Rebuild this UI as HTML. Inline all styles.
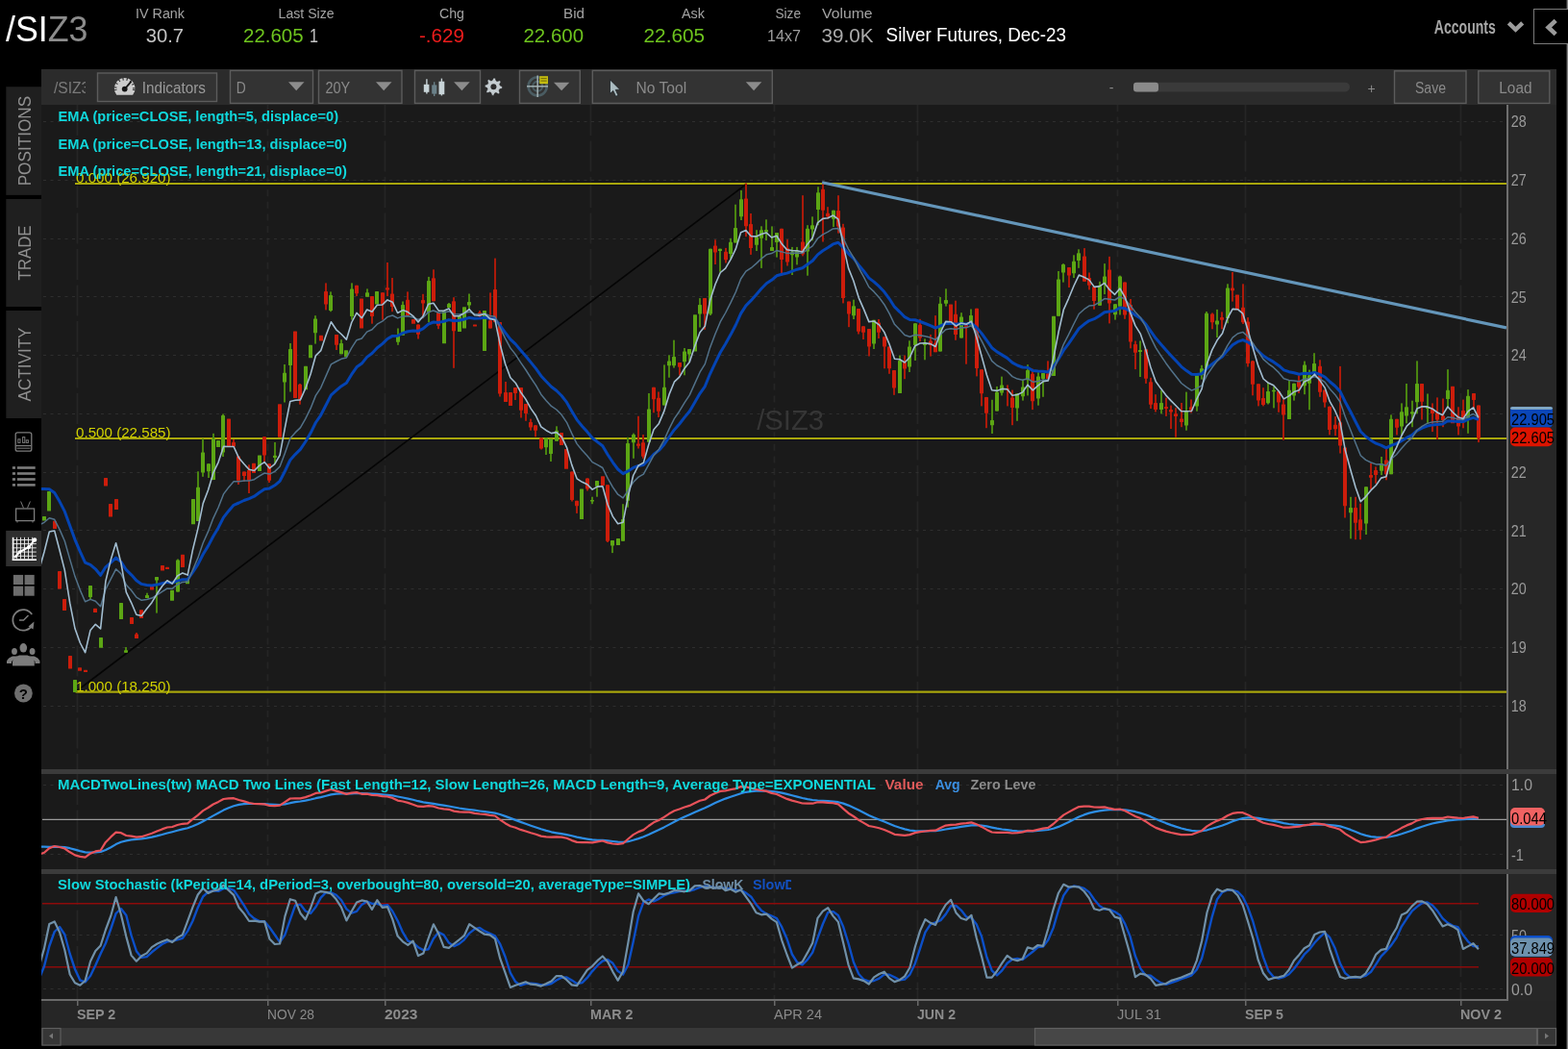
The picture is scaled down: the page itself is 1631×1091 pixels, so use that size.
<!DOCTYPE html><html><head><meta charset="utf-8"><title>/SIZ3 Silver Futures chart</title><style>html,body{margin:0;padding:0;background:#000;overflow:hidden}svg{display:block}text{font-family:"Liberation Sans","DejaVu Sans",sans-serif}</style></head><body>
<svg width="1631" height="1091" viewBox="0 0 1631 1091">
<rect width="1631" height="1091" fill="#000"/>
<text x="6" y="43" font-size="37" fill="#ffffff" textLength="85.5" lengthAdjust="spacingAndGlyphs">/SI<tspan fill="#8c8c8c">Z3</tspan></text>
<text x="141" y="19.2" font-size="15.5" fill="#a3a3a3" textLength="51" lengthAdjust="spacingAndGlyphs" >IV Rank</text>
<text x="289.6" y="19.2" font-size="15.5" fill="#a3a3a3" textLength="58" lengthAdjust="spacingAndGlyphs" >Last Size</text>
<text x="457" y="19.2" font-size="15.5" fill="#a3a3a3" textLength="26" lengthAdjust="spacingAndGlyphs" >Chg</text>
<text x="586" y="19.2" font-size="15.5" fill="#a3a3a3" textLength="22" lengthAdjust="spacingAndGlyphs" >Bid</text>
<text x="709" y="19.2" font-size="15.5" fill="#a3a3a3" textLength="24" lengthAdjust="spacingAndGlyphs" >Ask</text>
<text x="806.4" y="19.2" font-size="15.5" fill="#a3a3a3" textLength="26.6" lengthAdjust="spacingAndGlyphs" >Size</text>
<text x="855" y="19.2" font-size="15.5" fill="#a3a3a3" textLength="52.6" lengthAdjust="spacingAndGlyphs" >Volume</text>
<text x="151.7" y="44.4" font-size="20" fill="#c4c4c4" textLength="39.3" lengthAdjust="spacingAndGlyphs" >30.7</text>
<text x="253" y="44.4" font-size="20" fill="#6ec41e" textLength="62.6" lengthAdjust="spacingAndGlyphs" >22.605</text>
<text x="322" y="44.4" font-size="20" fill="#c4c4c4" textLength="9" lengthAdjust="spacingAndGlyphs" >1</text>
<text x="436" y="44.4" font-size="20" fill="#ee1c1c" textLength="47" lengthAdjust="spacingAndGlyphs" >-.629</text>
<text x="544.5" y="44.4" font-size="20" fill="#6ec41e" textLength="62.5" lengthAdjust="spacingAndGlyphs" >22.600</text>
<text x="669.6" y="44.4" font-size="20" fill="#6ec41e" textLength="63.4" lengthAdjust="spacingAndGlyphs" >22.605</text>
<text x="798" y="43.4" font-size="17" fill="#9c9c9c" textLength="35" lengthAdjust="spacingAndGlyphs" >14x7</text>
<text x="854.6" y="44.4" font-size="20" fill="#ababab" textLength="54" lengthAdjust="spacingAndGlyphs" >39.0K</text>
<text x="921.6" y="43" font-size="21" fill="#ffffff" textLength="187.4" lengthAdjust="spacingAndGlyphs" >Silver Futures, Dec-23</text>
<text x="1491.8" y="35" font-size="20" fill="#a6a6a6" font-weight="bold" textLength="64" lengthAdjust="spacingAndGlyphs" >Accounts</text>
<path d="M1569.3,23.8 L1576.5,30.8 L1583.7,23.8" fill="none" stroke="#9c9c9c" stroke-width="4.4"/>
<rect x="1595.5" y="9.5" width="40" height="36" fill="#000" stroke="#7a7a7a" stroke-width="1"/>
<path d="M1618.2,21.3 L1610.6,28.5 L1618.2,35.7" fill="none" stroke="#9a9a9a" stroke-width="4.6"/>
<rect x="1629.6" y="0" width="1.4" height="9.5" fill="#808080"/>
<rect x="1629.6" y="45.5" width="1.4" height="1046" fill="#808080"/>
<rect x="6.3" y="90.2" width="36.7" height="112.7" fill="#1f1f1f"/>
<text x="0" y="0" font-size="19" fill="#8f8f8f" text-anchor="middle" textLength="93.5" lengthAdjust="spacingAndGlyphs" transform="translate(32.3,146.6) rotate(-90)">POSITIONS</text>
<rect x="6.3" y="207" width="36.7" height="112.0" fill="#1f1f1f"/>
<text x="0" y="0" font-size="19" fill="#8f8f8f" text-anchor="middle" textLength="57.3" lengthAdjust="spacingAndGlyphs" transform="translate(32.3,263.0) rotate(-90)">TRADE</text>
<rect x="6.3" y="323" width="36.7" height="112.0" fill="#1f1f1f"/>
<text x="0" y="0" font-size="19" fill="#8f8f8f" text-anchor="middle" textLength="77" lengthAdjust="spacingAndGlyphs" transform="translate(32.3,379.0) rotate(-90)">ACTIVITY</text>
<rect x="16.2" y="449.8" width="16.6" height="19.4" rx="2" fill="none" stroke="#7c7c7c" stroke-width="1.3"/>
<line x1="16.5" y1="463.6" x2="32.5" y2="463.6" stroke="#7c7c7c" stroke-width="1.2"/><line x1="17.5" y1="466.2" x2="31.5" y2="466.2" stroke="#7c7c7c" stroke-width="1"/>
<rect x="18.8" y="456.8" width="2.2" height="3.6" fill="none" stroke="#7c7c7c" stroke-width="1"/><rect x="23.6" y="454.6" width="2.2" height="5.8" fill="none" stroke="#7c7c7c" stroke-width="1"/><rect x="27.2" y="457.8" width="2.2" height="2.6" fill="none" stroke="#7c7c7c" stroke-width="1"/>
<rect x="12.9" y="485.2" width="3.1" height="2.6" fill="#7c7c7c"/><rect x="17.9" y="485.2" width="18.8" height="2.6" fill="#7c7c7c"/>
<rect x="12.9" y="491.2" width="3.1" height="2.6" fill="#7c7c7c"/><rect x="17.9" y="491.2" width="18.8" height="2.6" fill="#7c7c7c"/>
<rect x="12.9" y="497.2" width="3.1" height="2.6" fill="#7c7c7c"/><rect x="17.9" y="497.2" width="18.8" height="2.6" fill="#7c7c7c"/>
<rect x="12.9" y="503.1" width="3.1" height="2.6" fill="#7c7c7c"/><rect x="17.9" y="503.1" width="18.8" height="2.6" fill="#7c7c7c"/>
<rect x="16.6" y="529" width="19" height="12.6" fill="none" stroke="#7c7c7c" stroke-width="1.3"/>
<path d="M21.6,521.5 L24.5,528.4 M31.4,521.5 L28.5,528.4" stroke="#7c7c7c" stroke-width="1"/>
<path d="M18,542 L18,543.5 M34,542 L34,543.5" stroke="#7c7c7c" stroke-width="1"/>
<rect x="6.2" y="551.9" width="37" height="37.1" fill="#2f2f2f"/>
<rect x="12.8" y="558.8" width="1.6" height="24.2" fill="#fff"/><rect x="12.8" y="581.4" width="25.2" height="1.6" fill="#fff"/>
<rect x="17" y="558.8" width="0.9" height="22.6" fill="#f0f0f0"/>
<rect x="21" y="558.8" width="0.9" height="22.6" fill="#f0f0f0"/>
<rect x="25" y="558.8" width="0.9" height="22.6" fill="#f0f0f0"/>
<rect x="29" y="558.8" width="0.9" height="22.6" fill="#f0f0f0"/>
<rect x="33.2" y="558.8" width="0.9" height="22.6" fill="#f0f0f0"/>
<rect x="12.8" y="561" width="25" height="0.9" fill="#f0f0f0"/>
<rect x="12.8" y="565.2" width="25" height="0.9" fill="#f0f0f0"/>
<rect x="12.8" y="569.4" width="25" height="0.9" fill="#f0f0f0"/>
<rect x="12.8" y="573.6" width="25" height="0.9" fill="#f0f0f0"/>
<rect x="12.8" y="577.8" width="25" height="0.9" fill="#f0f0f0"/>
<path d="M15,580 L20.5,574 L30,569 L36,561.5" stroke="#fff" stroke-width="2" fill="none"/>
<circle cx="20.5" cy="574" r="1.8" fill="#fff"/><circle cx="30" cy="569" r="2" fill="#fff"/><circle cx="36" cy="561.5" r="2.3" fill="#fff"/>
<rect x="13.9" y="597.9" width="10.2" height="10.1" fill="#6c6c6c"/><rect x="25.6" y="597.9" width="10.1" height="10.1" fill="#6c6c6c"/><rect x="13.9" y="609.6" width="10.2" height="10.1" fill="#6c6c6c"/><rect x="25.6" y="609.6" width="10.1" height="10.1" fill="#6c6c6c"/>
<path d="M33.9,649.5 A10.8,10.8 0 1 1 33.2,639" fill="none" stroke="#7c7c7c" stroke-width="1.8"/>
<path d="M29.5,651.5 L35.5,646.5 L34.5,654.5 Z" fill="#7c7c7c"/>
<path d="M20,645 L24.5,645 L29.5,640" fill="none" stroke="#7c7c7c" stroke-width="1.5"/>
<ellipse cx="24.3" cy="673.8" rx="3.8" ry="4.8" fill="#7c7c7c"/><path d="M13,692.5 L13,688 Q14,683.5 20,681.5 L28.5,681.5 Q34.5,683.5 35.8,688 L35.8,692.5 Z" fill="#7c7c7c"/>
<ellipse cx="15" cy="677.5" rx="2.9" ry="3.6" fill="#7c7c7c"/><path d="M7,690 L7,687.5 Q8.5,684 13,682.5 L18.5,682.5 L12,688 L12,690 Z" fill="#7c7c7c"/>
<ellipse cx="33.6" cy="677.5" rx="2.9" ry="3.6" fill="#7c7c7c"/><path d="M41.5,690 L41.5,687.5 Q40,684 35.5,682.5 L30,682.5 L36.5,688 L36.5,690 Z" fill="#7c7c7c"/>
<circle cx="24.4" cy="721" r="9.4" fill="#6e6e6e"/>
<text x="24.4" y="727" font-size="15" font-weight="bold" fill="#000" text-anchor="middle">?</text>
<rect x="43" y="72" width="1576" height="37" fill="#2b2b2b"/>
<rect x="43" y="109" width="1576" height="932" fill="#272727"/>
<rect x="43" y="109" width="1524" height="691" fill="#1a1a1a"/>
<rect x="43" y="805" width="1524" height="99" fill="#1a1a1a"/>
<rect x="43" y="909" width="1524" height="130" fill="#1a1a1a"/>
<rect x="43" y="800" width="1576" height="5" fill="#3b3b3b"/>
<rect x="43" y="904" width="1576" height="5" fill="#3b3b3b"/>
<rect x="1567" y="109" width="2" height="691" fill="#6e6e6e"/>
<rect x="1567" y="805" width="2" height="99" fill="#6e6e6e"/>
<rect x="1567" y="909" width="2" height="130" fill="#6e6e6e"/>
<rect x="43" y="1039" width="1526" height="2" fill="#6a6a6a"/>
<rect x="43" y="1041" width="1576" height="27.5" fill="#262626"/>
<clipPath id="tbc"><rect x="44" y="80" width="45" height="22"/></clipPath>
<text x="56" y="96.7" font-size="15.6" fill="#7a7a7a" clip-path="url(#tbc)">/SIZ3</text>
<rect x="101.5" y="76" width="124" height="29.5" fill="#333333" stroke="#5c5c5c" stroke-width="1.4"/>
<path d="M121.3,98.8 A10.9,10.9 0 1 1 138.1,98.8 Z" fill="#cbcbcb"/>
<line x1="121.4" y1="91.1" x2="118.5" y2="90.8" stroke="#333" stroke-width="1.1"/>
<line x1="122.5" y1="87.6" x2="120.0" y2="86.2" stroke="#333" stroke-width="1.1"/>
<line x1="124.9" y1="85.0" x2="123.3" y2="82.6" stroke="#333" stroke-width="1.1"/>
<line x1="128.3" y1="83.6" x2="127.8" y2="80.8" stroke="#333" stroke-width="1.1"/>
<line x1="131.8" y1="83.8" x2="132.6" y2="81.0" stroke="#333" stroke-width="1.1"/>
<line x1="135.0" y1="85.4" x2="136.9" y2="83.2" stroke="#333" stroke-width="1.1"/>
<line x1="137.2" y1="88.3" x2="139.9" y2="87.1" stroke="#333" stroke-width="1.1"/>
<line x1="138.0" y1="91.8" x2="140.9" y2="91.8" stroke="#333" stroke-width="1.1"/>
<line x1="121.5" y1="93.2" x2="118.7" y2="93.7" stroke="#333" stroke-width="1.1"/>
<line x1="137.9" y1="93.2" x2="140.7" y2="93.7" stroke="#333" stroke-width="1.1"/>
<circle cx="129.7" cy="92.6" r="2.9" fill="#151515"/><line x1="129.7" y1="92.6" x2="136.6" y2="84.6" stroke="#151515" stroke-width="1.8"/>
<text x="147.7" y="96.7" font-size="15.6" fill="#9a9a9a" textLength="66.2" lengthAdjust="spacingAndGlyphs" >Indicators</text>
<rect x="239.5" y="73.4" width="86" height="34" fill="#333333" stroke="#5c5c5c" stroke-width="1.4"/>
<text x="245.8" y="96.7" font-size="15.6" fill="#8a8a8a" textLength="10" lengthAdjust="spacingAndGlyphs" >D</text>
<path d="M300,85.3 L316.5,85.3 L308.2,94.3 Z" fill="#8c8c8c"/>
<rect x="331.5" y="73.4" width="86.5" height="34" fill="#333333" stroke="#5c5c5c" stroke-width="1.4"/>
<text x="338.5" y="96.7" font-size="15.6" fill="#8a8a8a" textLength="25.7" lengthAdjust="spacingAndGlyphs" >20Y</text>
<path d="M391,85.3 L407.5,85.3 L399.2,94.3 Z" fill="#8c8c8c"/>
<rect x="431.5" y="73.4" width="68" height="34" fill="#333333" stroke="#5c5c5c" stroke-width="1.4"/>
<line x1="443.9" y1="82.3" x2="443.9" y2="97.6" stroke="#c8d4d8" stroke-width="1.4"/><rect x="440.8" y="87.8" width="5.6" height="8" fill="#c8d4d8"/>
<line x1="451.7" y1="85.3" x2="451.7" y2="100" stroke="#6a8088" stroke-width="1.4"/><rect x="449.2" y="88.4" width="5.1" height="9.2" fill="#6a8088"/>
<line x1="459.4" y1="81.6" x2="459.4" y2="99.4" stroke="#c8d4d8" stroke-width="1.4"/><rect x="456.5" y="84.7" width="5.8" height="13.5" fill="#c8d4d8"/>
<path d="M472.1,85.3 L488.7,85.3 L480.4,94.3 Z" fill="#8c8c8c"/>
<polygon points="513.42,81.00 515.18,81.17 516.02,83.92 517.17,84.54 519.92,83.71 521.04,85.07 519.69,87.61 520.07,88.86 522.60,90.22 522.43,91.98 519.68,92.82 519.06,93.97 519.89,96.72 518.53,97.84 515.99,96.49 514.74,96.87 513.38,99.40 511.62,99.23 510.78,96.48 509.63,95.86 506.88,96.69 505.76,95.33 507.11,92.79 506.73,91.54 504.20,90.18 504.37,88.42 507.12,87.58 507.74,86.43 506.91,83.68 508.27,82.56 510.81,83.91 512.06,83.53" fill="#c4ccd0" stroke="#1e1e1e" stroke-width="0.6"/>
<circle cx="513.4" cy="90.2" r="3" fill="#2b2b2b"/>
<rect x="540.5" y="73.4" width="62.8" height="34" fill="#333333" stroke="#5c5c5c" stroke-width="1.4"/>
<circle cx="559.2" cy="89.8" r="9.6" fill="none" stroke="#4a5c62" stroke-width="2.6"/><circle cx="559.2" cy="89.8" r="5" fill="none" stroke="#4a5c62" stroke-width="2"/>
<line x1="548" y1="89.8" x2="570" y2="89.8" stroke="#a8b6b8" stroke-width="1.4"/><line x1="559.2" y1="78.6" x2="559.2" y2="101" stroke="#a8b6b8" stroke-width="1.4"/>
<rect x="561.2" y="79.2" width="8.8" height="8" fill="#c4bc10"/><line x1="562.5" y1="81.6" x2="568.7" y2="81.6" stroke="#5a5600" stroke-width="0.8"/><line x1="562.5" y1="84.1" x2="568.7" y2="84.1" stroke="#5a5600" stroke-width="0.8"/>
<path d="M576,85.7 L592.3,85.7 L584.1,94.3 Z" fill="#8c8c8c"/>
<rect x="616.3" y="73.4" width="187" height="34" fill="#333333" stroke="#5c5c5c" stroke-width="1.4"/>
<path d="M634.5,82.9 L634.5,97.5 L637.8,94.4 L640.6,100.3 L643,99.2 L640.3,93.4 L644.9,93.2 Z" fill="#aabbc0" stroke="#1c2226" stroke-width="0.8"/>
<text x="661.5" y="96.7" font-size="15.6" fill="#8a8a8a" textLength="52.7" lengthAdjust="spacingAndGlyphs" >No Tool</text>
<path d="M775.8,85.3 L792.3,85.3 L784.1,94.3 Z" fill="#8c8c8c"/>
<text x="1156" y="96" font-size="14" fill="#8a8a8a" text-anchor="middle" >-</text>
<rect x="1179" y="85.7" width="225" height="9.7" rx="4.8" fill="#3a3a3a"/>
<rect x="1179" y="85.7" width="26" height="9.7" rx="3" fill="#8a8a8a"/>
<text x="1426.5" y="97" font-size="14" fill="#8a8a8a" text-anchor="middle" >+</text>
<rect x="1450.5" y="73.8" width="74.5" height="33.6" fill="#333333" stroke="#5c5c5c" stroke-width="1.4"/>
<text x="1472" y="97.3" font-size="15.6" fill="#8a8a8a" textLength="32" lengthAdjust="spacingAndGlyphs" >Save</text>
<rect x="1537.8" y="73.8" width="74" height="33.6" fill="#333333" stroke="#5c5c5c" stroke-width="1.4"/>
<text x="1559.3" y="97.3" font-size="15.6" fill="#8a8a8a" textLength="34.2" lengthAdjust="spacingAndGlyphs" >Load</text>
<defs><clipPath id="cp"><rect x="43" y="109" width="1524" height="691"/></clipPath><clipPath id="cm"><rect x="43" y="805" width="1524" height="99"/></clipPath><clipPath id="cs"><rect x="43" y="909" width="1524" height="130"/></clipPath></defs>
<line x1="80.5" y1="109" x2="80.5" y2="800" stroke="#252525" stroke-width="1.8" stroke-dasharray="32 5.5"/>
<line x1="278.5" y1="109" x2="278.5" y2="800" stroke="#252525" stroke-width="1.8" stroke-dasharray="7 5.6"/>
<line x1="400.5" y1="109" x2="400.5" y2="800" stroke="#252525" stroke-width="1.8" stroke-dasharray="32 5.5"/>
<line x1="614.5" y1="109" x2="614.5" y2="800" stroke="#252525" stroke-width="1.8" stroke-dasharray="32 5.5"/>
<line x1="805.5" y1="109" x2="805.5" y2="800" stroke="#252525" stroke-width="1.8" stroke-dasharray="7 5.6"/>
<line x1="954.5" y1="109" x2="954.5" y2="800" stroke="#252525" stroke-width="1.8" stroke-dasharray="32 5.5"/>
<line x1="1162.5" y1="109" x2="1162.5" y2="800" stroke="#252525" stroke-width="1.8" stroke-dasharray="7 5.6"/>
<line x1="1295.5" y1="109" x2="1295.5" y2="800" stroke="#252525" stroke-width="1.8" stroke-dasharray="32 5.5"/>
<line x1="1519.5" y1="109" x2="1519.5" y2="800" stroke="#252525" stroke-width="1.8" stroke-dasharray="32 5.5"/>
<line x1="80.5" y1="805" x2="80.5" y2="904" stroke="#252525" stroke-width="1.8" stroke-dasharray="32 5.5"/>
<line x1="278.5" y1="805" x2="278.5" y2="904" stroke="#252525" stroke-width="1.8" stroke-dasharray="7 5.6"/>
<line x1="400.5" y1="805" x2="400.5" y2="904" stroke="#252525" stroke-width="1.8" stroke-dasharray="32 5.5"/>
<line x1="614.5" y1="805" x2="614.5" y2="904" stroke="#252525" stroke-width="1.8" stroke-dasharray="32 5.5"/>
<line x1="805.5" y1="805" x2="805.5" y2="904" stroke="#252525" stroke-width="1.8" stroke-dasharray="7 5.6"/>
<line x1="954.5" y1="805" x2="954.5" y2="904" stroke="#252525" stroke-width="1.8" stroke-dasharray="32 5.5"/>
<line x1="1162.5" y1="805" x2="1162.5" y2="904" stroke="#252525" stroke-width="1.8" stroke-dasharray="7 5.6"/>
<line x1="1295.5" y1="805" x2="1295.5" y2="904" stroke="#252525" stroke-width="1.8" stroke-dasharray="32 5.5"/>
<line x1="1519.5" y1="805" x2="1519.5" y2="904" stroke="#252525" stroke-width="1.8" stroke-dasharray="32 5.5"/>
<line x1="80.5" y1="909" x2="80.5" y2="1039" stroke="#252525" stroke-width="1.8" stroke-dasharray="32 5.5"/>
<line x1="278.5" y1="909" x2="278.5" y2="1039" stroke="#252525" stroke-width="1.8" stroke-dasharray="7 5.6"/>
<line x1="400.5" y1="909" x2="400.5" y2="1039" stroke="#252525" stroke-width="1.8" stroke-dasharray="32 5.5"/>
<line x1="614.5" y1="909" x2="614.5" y2="1039" stroke="#252525" stroke-width="1.8" stroke-dasharray="32 5.5"/>
<line x1="805.5" y1="909" x2="805.5" y2="1039" stroke="#252525" stroke-width="1.8" stroke-dasharray="7 5.6"/>
<line x1="954.5" y1="909" x2="954.5" y2="1039" stroke="#252525" stroke-width="1.8" stroke-dasharray="32 5.5"/>
<line x1="1162.5" y1="909" x2="1162.5" y2="1039" stroke="#252525" stroke-width="1.8" stroke-dasharray="7 5.6"/>
<line x1="1295.5" y1="909" x2="1295.5" y2="1039" stroke="#252525" stroke-width="1.8" stroke-dasharray="32 5.5"/>
<line x1="1519.5" y1="909" x2="1519.5" y2="1039" stroke="#252525" stroke-width="1.8" stroke-dasharray="32 5.5"/>
<line x1="45" y1="734.5" x2="1567" y2="734.5" stroke="#2e2e2e" stroke-width="1" stroke-dasharray="3 4.5"/>
<line x1="45" y1="673.5" x2="1567" y2="673.5" stroke="#2e2e2e" stroke-width="1" stroke-dasharray="3 4.5"/>
<line x1="45" y1="612.5" x2="1567" y2="612.5" stroke="#2e2e2e" stroke-width="1" stroke-dasharray="3 4.5"/>
<line x1="45" y1="551.5" x2="1567" y2="551.5" stroke="#2e2e2e" stroke-width="1" stroke-dasharray="3 4.5"/>
<line x1="45" y1="491.5" x2="1567" y2="491.5" stroke="#2e2e2e" stroke-width="1" stroke-dasharray="3 4.5"/>
<line x1="45" y1="430.5" x2="1567" y2="430.5" stroke="#2e2e2e" stroke-width="1" stroke-dasharray="3 4.5"/>
<line x1="45" y1="369.5" x2="1567" y2="369.5" stroke="#2e2e2e" stroke-width="1" stroke-dasharray="3 4.5"/>
<line x1="45" y1="308.5" x2="1567" y2="308.5" stroke="#2e2e2e" stroke-width="1" stroke-dasharray="3 4.5"/>
<line x1="45" y1="248.5" x2="1567" y2="248.5" stroke="#2e2e2e" stroke-width="1" stroke-dasharray="3 4.5"/>
<line x1="45" y1="187.5" x2="1567" y2="187.5" stroke="#2e2e2e" stroke-width="1" stroke-dasharray="3 4.5"/>
<line x1="45" y1="126.5" x2="1567" y2="126.5" stroke="#2e2e2e" stroke-width="1" stroke-dasharray="3 4.5"/>
<line x1="45" y1="816.5" x2="1567" y2="816.5" stroke="#2e2e2e" stroke-width="1" stroke-dasharray="3 4.5"/>
<line x1="45" y1="888.5" x2="1567" y2="888.5" stroke="#2e2e2e" stroke-width="1" stroke-dasharray="3 4.5"/>
<line x1="45" y1="972.5" x2="1567" y2="972.5" stroke="#2e2e2e" stroke-width="1" stroke-dasharray="3 4.5"/>
<line x1="45" y1="1028.5" x2="1567" y2="1028.5" stroke="#2e2e2e" stroke-width="1" stroke-dasharray="3 4.5"/>
<g clip-path="url(#cp)">
<text x="787.2" y="446.7" font-size="29.6" fill="#363636" textLength="69.8" lengthAdjust="spacingAndGlyphs" >/SIZ3</text>
<line x1="78" y1="191" x2="1567" y2="191" stroke="#0e0e16" stroke-width="4.4" opacity="0.5"/>
<line x1="78" y1="191" x2="1567" y2="191" stroke="#a8a60c" stroke-width="2.2"/>
<line x1="78" y1="456" x2="1567" y2="456" stroke="#0e0e16" stroke-width="4.4" opacity="0.5"/>
<line x1="78" y1="456" x2="1567" y2="456" stroke="#a8a60c" stroke-width="2.2"/>
<line x1="78" y1="719.6" x2="1567" y2="719.6" stroke="#0e0e16" stroke-width="4.4" opacity="0.5"/>
<line x1="78" y1="719.6" x2="1567" y2="719.6" stroke="#a8a60c" stroke-width="2.2"/>
<line x1="78" y1="720" x2="776.2" y2="191.5" stroke="#050505" stroke-width="1.6"/>
<rect x="44" y="537.0" width="4" height="4.5" fill="#5ca614" rx="0.5"/>
<rect x="49" y="511.0" width="4" height="20.5" fill="#5ca614" rx="0.5"/>
<rect x="55" y="541.7" width="4" height="8.3" fill="#cc1d0b" rx="0.5"/>
<rect x="60" y="594.0" width="4" height="18.6" fill="#cc1d0b" rx="0.5"/>
<rect x="65" y="623.0" width="4" height="12.0" fill="#cc1d0b" rx="0.5"/>
<rect x="71" y="682.0" width="4" height="13.4" fill="#cc1d0b" rx="0.5"/>
<rect x="76" y="707.0" width="4" height="13.0" fill="#5ca614" rx="0.5"/>
<rect x="81" y="694.3" width="4" height="3.5" fill="#cc1d0b" rx="0.5"/>
<rect x="87" y="696.8" width="4" height="2.2" fill="#cc1d0b" rx="0.5"/>
<rect x="93" y="609.0" width="2" height="14.0" fill="#4a8610"/>
<rect x="92" y="609.0" width="4" height="12.0" fill="#5ca614" rx="0.5"/>
<rect x="97" y="632.7" width="4" height="4.3" fill="#cc1d0b" rx="0.5"/>
<rect x="103" y="663.0" width="4" height="10.8" fill="#5ca614" rx="0.5"/>
<rect x="108" y="497.0" width="4" height="8.5" fill="#cc1d0b" rx="0.5"/>
<rect x="113" y="524.0" width="4" height="13.6" fill="#cc1d0b" rx="0.5"/>
<rect x="119" y="519.0" width="4" height="11.0" fill="#cc1d0b" rx="0.5"/>
<rect x="124" y="627.0" width="4" height="17.0" fill="#5ca614" rx="0.5"/>
<rect x="130" y="673.0" width="2" height="5.8" fill="#4a8610"/>
<rect x="129" y="676.3" width="4" height="2.5" fill="#5ca614" rx="0.5"/>
<rect x="135" y="642.0" width="4" height="7.0" fill="#cc1d0b" rx="0.5"/>
<rect x="141" y="658.0" width="2" height="6.0" fill="#ac1a0a"/>
<rect x="140" y="659.4" width="4" height="4.6" fill="#cc1d0b" rx="0.5"/>
<rect x="145" y="634.3" width="4" height="8.8" fill="#cc1d0b" rx="0.5"/>
<rect x="152" y="616.7" width="2" height="5.3" fill="#4a8610"/>
<rect x="151" y="619.0" width="4" height="3.0" fill="#5ca614" rx="0.5"/>
<rect x="156" y="608.0" width="4" height="5.4" fill="#cc1d0b" rx="0.5"/>
<rect x="162" y="600.0" width="2" height="37.6" fill="#4a8610"/>
<rect x="161" y="600.0" width="4" height="3.5" fill="#5ca614" rx="0.5"/>
<rect x="167" y="588.0" width="4" height="5.6" fill="#cc1d0b" rx="0.5"/>
<rect x="172" y="589.7" width="4" height="2.3" fill="#cc1d0b" rx="0.5"/>
<rect x="177" y="613.8" width="4" height="11.0" fill="#5ca614" rx="0.5"/>
<rect x="184" y="581.5" width="2" height="34.1" fill="#4a8610"/>
<rect x="183" y="582.6" width="4" height="33.0" fill="#5ca614" rx="0.5"/>
<rect x="188" y="576.7" width="4" height="13.2" fill="#cc1d0b" rx="0.5"/>
<rect x="193" y="602.4" width="4" height="4.9" fill="#5ca614" rx="0.5"/>
<rect x="199" y="519.0" width="4" height="26.3" fill="#5ca614" rx="0.5"/>
<rect x="205" y="490.3" width="2" height="51.7" fill="#4a8610"/>
<rect x="204" y="506.8" width="4" height="35.2" fill="#5ca614" rx="0.5"/>
<rect x="210" y="456.3" width="2" height="39.5" fill="#4a8610"/>
<rect x="209" y="470.5" width="4" height="20.9" fill="#5ca614" rx="0.5"/>
<rect x="216" y="482.2" width="2" height="14.8" fill="#4a8610"/>
<rect x="215" y="482.2" width="4" height="8.1" fill="#5ca614" rx="0.5"/>
<rect x="221" y="450.8" width="2" height="48.3" fill="#4a8610"/>
<rect x="220" y="456.3" width="4" height="42.8" fill="#5ca614" rx="0.5"/>
<rect x="225" y="458.0" width="4" height="7.0" fill="#5ca614" rx="0.5"/>
<rect x="231" y="430.5" width="2" height="44.5" fill="#4a8610"/>
<rect x="230" y="432.0" width="4" height="38.5" fill="#5ca614" rx="0.5"/>
<rect x="236" y="435.4" width="4" height="29.2" fill="#cc1d0b" rx="0.5"/>
<rect x="242" y="457.0" width="2" height="7.6" fill="#ac1a0a"/>
<rect x="241" y="460.0" width="4" height="4.6" fill="#cc1d0b" rx="0.5"/>
<rect x="247" y="474.5" width="2" height="29.5" fill="#ac1a0a"/>
<rect x="246" y="474.5" width="4" height="25.3" fill="#cc1d0b" rx="0.5"/>
<rect x="253" y="490.5" width="2" height="10.5" fill="#ac1a0a"/>
<rect x="252" y="490.5" width="4" height="4.5" fill="#cc1d0b" rx="0.5"/>
<rect x="258" y="483.3" width="2" height="29.7" fill="#ac1a0a"/>
<rect x="257" y="488.8" width="4" height="11.0" fill="#cc1d0b" rx="0.5"/>
<rect x="262" y="481.8" width="4" height="10.2" fill="#cc1d0b" rx="0.5"/>
<rect x="268" y="473.4" width="4" height="16.6" fill="#5ca614" rx="0.5"/>
<rect x="274" y="454.3" width="2" height="25.7" fill="#ac1a0a"/>
<rect x="273" y="454.3" width="4" height="19.1" fill="#cc1d0b" rx="0.5"/>
<rect x="279" y="482.2" width="2" height="19.8" fill="#ac1a0a"/>
<rect x="278" y="482.2" width="4" height="17.6" fill="#cc1d0b" rx="0.5"/>
<rect x="285" y="460.0" width="2" height="22.0" fill="#4a8610"/>
<rect x="284" y="473.8" width="4" height="2.2" fill="#5ca614" rx="0.5"/>
<rect x="289" y="420.2" width="4" height="34.5" fill="#cc1d0b" rx="0.5"/>
<rect x="295" y="379.0" width="2" height="39.5" fill="#4a8610"/>
<rect x="294" y="387.7" width="4" height="9.9" fill="#5ca614" rx="0.5"/>
<rect x="301" y="357.0" width="2" height="50.5" fill="#4a8610"/>
<rect x="300" y="363.0" width="4" height="17.0" fill="#5ca614" rx="0.5"/>
<rect x="305" y="344.4" width="4" height="69.6" fill="#cc1d0b" rx="0.5"/>
<rect x="311" y="399.0" width="2" height="21.7" fill="#ac1a0a"/>
<rect x="310" y="399.8" width="4" height="15.2" fill="#cc1d0b" rx="0.5"/>
<rect x="316" y="380.7" width="4" height="24.6" fill="#5ca614" rx="0.5"/>
<rect x="321" y="358.7" width="4" height="13.6" fill="#5ca614" rx="0.5"/>
<rect x="327" y="328.2" width="2" height="29.4" fill="#4a8610"/>
<rect x="326" y="331.4" width="4" height="14.9" fill="#5ca614" rx="0.5"/>
<rect x="332" y="348.7" width="4" height="5.9" fill="#cc1d0b" rx="0.5"/>
<rect x="338" y="294.4" width="2" height="28.0" fill="#ac1a0a"/>
<rect x="337" y="303.1" width="4" height="13.4" fill="#cc1d0b" rx="0.5"/>
<rect x="343" y="303.4" width="2" height="20.8" fill="#4a8610"/>
<rect x="342" y="307.0" width="4" height="16.0" fill="#5ca614" rx="0.5"/>
<rect x="349" y="348.0" width="2" height="16.0" fill="#ac1a0a"/>
<rect x="348" y="348.0" width="4" height="10.8" fill="#cc1d0b" rx="0.5"/>
<rect x="354" y="353.2" width="2" height="15.1" fill="#4a8610"/>
<rect x="353" y="357.0" width="4" height="11.3" fill="#5ca614" rx="0.5"/>
<rect x="358" y="364.2" width="4" height="7.1" fill="#5ca614" rx="0.5"/>
<rect x="365" y="294.4" width="2" height="38.2" fill="#4a8610"/>
<rect x="364" y="300.4" width="4" height="28.6" fill="#5ca614" rx="0.5"/>
<rect x="370" y="296.8" width="2" height="11.2" fill="#ac1a0a"/>
<rect x="369" y="296.8" width="4" height="8.4" fill="#cc1d0b" rx="0.5"/>
<rect x="374" y="310.5" width="4" height="31.0" fill="#cc1d0b" rx="0.5"/>
<rect x="381" y="300.4" width="2" height="8.3" fill="#4a8610"/>
<rect x="380" y="304.3" width="4" height="4.4" fill="#5ca614" rx="0.5"/>
<rect x="386" y="308.0" width="2" height="28.7" fill="#ac1a0a"/>
<rect x="385" y="308.0" width="4" height="21.0" fill="#cc1d0b" rx="0.5"/>
<rect x="390" y="303.1" width="4" height="13.4" fill="#5ca614" rx="0.5"/>
<rect x="397" y="304.3" width="2" height="28.3" fill="#ac1a0a"/>
<rect x="396" y="304.3" width="4" height="12.2" fill="#cc1d0b" rx="0.5"/>
<rect x="402" y="273.0" width="2" height="35.1" fill="#ac1a0a"/>
<rect x="401" y="299.2" width="4" height="2.4" fill="#cc1d0b" rx="0.5"/>
<rect x="407" y="289.0" width="2" height="35.2" fill="#ac1a0a"/>
<rect x="406" y="305.5" width="4" height="13.4" fill="#cc1d0b" rx="0.5"/>
<rect x="413" y="341.5" width="2" height="17.3" fill="#4a8610"/>
<rect x="412" y="348.0" width="4" height="7.8" fill="#5ca614" rx="0.5"/>
<rect x="418" y="313.5" width="2" height="35.2" fill="#4a8610"/>
<rect x="417" y="317.0" width="4" height="31.7" fill="#5ca614" rx="0.5"/>
<rect x="423" y="303.4" width="2" height="25.0" fill="#ac1a0a"/>
<rect x="422" y="311.7" width="4" height="16.7" fill="#cc1d0b" rx="0.5"/>
<rect x="428" y="332.0" width="4" height="4.7" fill="#cc1d0b" rx="0.5"/>
<rect x="434" y="337.4" width="2" height="15.1" fill="#ac1a0a"/>
<rect x="433" y="337.4" width="4" height="10.3" fill="#cc1d0b" rx="0.5"/>
<rect x="439" y="305.8" width="2" height="25.4" fill="#ac1a0a"/>
<rect x="438" y="312.0" width="4" height="3.4" fill="#cc1d0b" rx="0.5"/>
<rect x="445" y="287.9" width="2" height="47.4" fill="#4a8610"/>
<rect x="444" y="292.0" width="4" height="33.0" fill="#5ca614" rx="0.5"/>
<rect x="450" y="280.3" width="2" height="33.0" fill="#ac1a0a"/>
<rect x="449" y="289.3" width="4" height="24.0" fill="#cc1d0b" rx="0.5"/>
<rect x="455" y="325.0" width="2" height="17.2" fill="#ac1a0a"/>
<rect x="454" y="325.0" width="4" height="13.8" fill="#cc1d0b" rx="0.5"/>
<rect x="460" y="323.6" width="4" height="33.7" fill="#5ca614" rx="0.5"/>
<rect x="466" y="315.0" width="2" height="5.0" fill="#4a8610"/>
<rect x="465" y="316.0" width="4" height="4.0" fill="#5ca614" rx="0.5"/>
<rect x="471" y="309.2" width="2" height="73.6" fill="#ac1a0a"/>
<rect x="470" y="313.3" width="4" height="31.0" fill="#cc1d0b" rx="0.5"/>
<rect x="476" y="329.1" width="4" height="15.9" fill="#5ca614" rx="0.5"/>
<rect x="481" y="319.2" width="4" height="22.3" fill="#5ca614" rx="0.5"/>
<rect x="487" y="305.5" width="2" height="16.8" fill="#4a8610"/>
<rect x="486" y="314.0" width="4" height="3.5" fill="#5ca614" rx="0.5"/>
<rect x="492" y="337.4" width="4" height="2.1" fill="#cc1d0b" rx="0.5"/>
<rect x="498" y="323.0" width="2" height="8.0" fill="#ac1a0a"/>
<rect x="497" y="325.0" width="4" height="4.0" fill="#cc1d0b" rx="0.5"/>
<rect x="502" y="323.0" width="4" height="42.0" fill="#5ca614" rx="0.5"/>
<rect x="509" y="304.4" width="2" height="37.1" fill="#ac1a0a"/>
<rect x="508" y="333.3" width="4" height="8.2" fill="#cc1d0b" rx="0.5"/>
<rect x="514" y="268.6" width="2" height="66.4" fill="#ac1a0a"/>
<rect x="513" y="301.0" width="4" height="34.0" fill="#cc1d0b" rx="0.5"/>
<rect x="519" y="335.0" width="2" height="77.5" fill="#ac1a0a"/>
<rect x="518" y="335.0" width="4" height="74.5" fill="#cc1d0b" rx="0.5"/>
<rect x="525" y="397.0" width="2" height="21.0" fill="#ac1a0a"/>
<rect x="524" y="408.0" width="4" height="10.0" fill="#cc1d0b" rx="0.5"/>
<rect x="529" y="408.0" width="4" height="14.0" fill="#cc1d0b" rx="0.5"/>
<rect x="535" y="403.0" width="2" height="13.0" fill="#ac1a0a"/>
<rect x="534" y="403.0" width="4" height="6.0" fill="#cc1d0b" rx="0.5"/>
<rect x="541" y="403.0" width="2" height="31.5" fill="#ac1a0a"/>
<rect x="540" y="403.0" width="4" height="23.8" fill="#cc1d0b" rx="0.5"/>
<rect x="546" y="420.0" width="2" height="17.8" fill="#ac1a0a"/>
<rect x="545" y="420.0" width="4" height="10.0" fill="#cc1d0b" rx="0.5"/>
<rect x="551" y="435.6" width="2" height="12.1" fill="#ac1a0a"/>
<rect x="550" y="439.0" width="4" height="5.4" fill="#cc1d0b" rx="0.5"/>
<rect x="556" y="442.2" width="2" height="12.1" fill="#ac1a0a"/>
<rect x="555" y="442.2" width="4" height="5.5" fill="#cc1d0b" rx="0.5"/>
<rect x="562" y="455.4" width="2" height="12.1" fill="#ac1a0a"/>
<rect x="561" y="455.4" width="4" height="11.0" fill="#cc1d0b" rx="0.5"/>
<rect x="567" y="455.4" width="2" height="17.6" fill="#4a8610"/>
<rect x="566" y="455.4" width="4" height="9.9" fill="#5ca614" rx="0.5"/>
<rect x="572" y="456.5" width="2" height="23.5" fill="#4a8610"/>
<rect x="571" y="456.5" width="4" height="15.4" fill="#5ca614" rx="0.5"/>
<rect x="578" y="443.3" width="2" height="15.4" fill="#4a8610"/>
<rect x="577" y="447.7" width="4" height="11.0" fill="#5ca614" rx="0.5"/>
<rect x="582" y="450.0" width="4" height="13.0" fill="#cc1d0b" rx="0.5"/>
<rect x="587" y="467.0" width="4" height="20.8" fill="#cc1d0b" rx="0.5"/>
<rect x="594" y="490.5" width="2" height="31.0" fill="#ac1a0a"/>
<rect x="593" y="490.5" width="4" height="29.5" fill="#cc1d0b" rx="0.5"/>
<rect x="599" y="520.8" width="2" height="13.1" fill="#ac1a0a"/>
<rect x="598" y="520.8" width="4" height="5.5" fill="#cc1d0b" rx="0.5"/>
<rect x="603" y="508.4" width="4" height="31.6" fill="#5ca614" rx="0.5"/>
<rect x="610" y="497.4" width="2" height="13.1" fill="#ac1a0a"/>
<rect x="609" y="497.4" width="4" height="11.0" fill="#cc1d0b" rx="0.5"/>
<rect x="615" y="516.7" width="2" height="7.5" fill="#4a8610"/>
<rect x="614" y="520.0" width="4" height="1.6" fill="#5ca614" rx="0.5"/>
<rect x="620" y="500.0" width="2" height="16.7" fill="#4a8610"/>
<rect x="619" y="500.0" width="4" height="5.7" fill="#5ca614" rx="0.5"/>
<rect x="625" y="495.3" width="4" height="9.7" fill="#cc1d0b" rx="0.5"/>
<rect x="631" y="504.3" width="2" height="59.7" fill="#ac1a0a"/>
<rect x="630" y="504.3" width="4" height="58.4" fill="#cc1d0b" rx="0.5"/>
<rect x="636" y="562.0" width="2" height="13.1" fill="#4a8610"/>
<rect x="635" y="562.0" width="4" height="5.5" fill="#5ca614" rx="0.5"/>
<rect x="641" y="560.0" width="4" height="6.9" fill="#5ca614" rx="0.5"/>
<rect x="647" y="524.2" width="2" height="38.5" fill="#4a8610"/>
<rect x="646" y="540.0" width="4" height="22.7" fill="#5ca614" rx="0.5"/>
<rect x="652" y="454.8" width="2" height="72.9" fill="#4a8610"/>
<rect x="651" y="461.0" width="4" height="59.8" fill="#5ca614" rx="0.5"/>
<rect x="658" y="450.6" width="2" height="26.2" fill="#4a8610"/>
<rect x="657" y="452.0" width="4" height="8.3" fill="#5ca614" rx="0.5"/>
<rect x="663" y="432.8" width="2" height="33.7" fill="#ac1a0a"/>
<rect x="662" y="461.6" width="4" height="2.1" fill="#cc1d0b" rx="0.5"/>
<rect x="668" y="452.0" width="2" height="24.8" fill="#ac1a0a"/>
<rect x="667" y="460.3" width="4" height="14.4" fill="#cc1d0b" rx="0.5"/>
<rect x="674" y="409.0" width="2" height="50.7" fill="#4a8610"/>
<rect x="673" y="425.4" width="4" height="34.3" fill="#5ca614" rx="0.5"/>
<rect x="679" y="402.8" width="2" height="26.5" fill="#ac1a0a"/>
<rect x="678" y="402.8" width="4" height="12.5" fill="#cc1d0b" rx="0.5"/>
<rect x="684" y="407.5" width="2" height="26.5" fill="#ac1a0a"/>
<rect x="683" y="413.7" width="4" height="14.0" fill="#cc1d0b" rx="0.5"/>
<rect x="690" y="379.4" width="2" height="42.1" fill="#4a8610"/>
<rect x="689" y="402.8" width="4" height="18.7" fill="#5ca614" rx="0.5"/>
<rect x="695" y="369.3" width="2" height="23.4" fill="#4a8610"/>
<rect x="694" y="375.5" width="4" height="4.7" fill="#5ca614" rx="0.5"/>
<rect x="700" y="353.7" width="2" height="28.9" fill="#4a8610"/>
<rect x="699" y="370.9" width="4" height="9.3" fill="#5ca614" rx="0.5"/>
<rect x="706" y="377.1" width="2" height="13.2" fill="#ac1a0a"/>
<rect x="705" y="377.1" width="4" height="4.7" fill="#cc1d0b" rx="0.5"/>
<rect x="711" y="362.0" width="2" height="28.3" fill="#4a8610"/>
<rect x="710" y="365.4" width="4" height="10.9" fill="#5ca614" rx="0.5"/>
<rect x="716" y="363.0" width="2" height="13.3" fill="#4a8610"/>
<rect x="715" y="363.0" width="4" height="5.5" fill="#5ca614" rx="0.5"/>
<rect x="721" y="327.3" width="4" height="38.1" fill="#5ca614" rx="0.5"/>
<rect x="727" y="310.1" width="2" height="30.4" fill="#4a8610"/>
<rect x="726" y="317.1" width="4" height="9.4" fill="#5ca614" rx="0.5"/>
<rect x="732" y="310.1" width="2" height="32.7" fill="#ac1a0a"/>
<rect x="731" y="310.1" width="4" height="16.4" fill="#cc1d0b" rx="0.5"/>
<rect x="738" y="258.7" width="2" height="69.3" fill="#4a8610"/>
<rect x="737" y="258.7" width="4" height="67.7" fill="#5ca614" rx="0.5"/>
<rect x="743" y="249.3" width="2" height="25.7" fill="#ac1a0a"/>
<rect x="742" y="255.5" width="4" height="7.1" fill="#cc1d0b" rx="0.5"/>
<rect x="748" y="258.7" width="2" height="24.1" fill="#4a8610"/>
<rect x="747" y="258.7" width="4" height="2.3" fill="#5ca614" rx="0.5"/>
<rect x="754" y="257.9" width="2" height="15.6" fill="#ac1a0a"/>
<rect x="753" y="261.8" width="4" height="8.5" fill="#cc1d0b" rx="0.5"/>
<rect x="759" y="247.8" width="2" height="21.0" fill="#4a8610"/>
<rect x="758" y="251.7" width="4" height="12.4" fill="#5ca614" rx="0.5"/>
<rect x="764" y="212.7" width="2" height="39.7" fill="#4a8610"/>
<rect x="763" y="236.9" width="4" height="15.5" fill="#5ca614" rx="0.5"/>
<rect x="770" y="198.0" width="2" height="31.0" fill="#4a8610"/>
<rect x="769" y="207.3" width="4" height="17.9" fill="#5ca614" rx="0.5"/>
<rect x="775" y="190.6" width="2" height="55.6" fill="#ac1a0a"/>
<rect x="774" y="206.5" width="4" height="28.8" fill="#cc1d0b" rx="0.5"/>
<rect x="780" y="222.0" width="2" height="42.9" fill="#ac1a0a"/>
<rect x="779" y="233.0" width="4" height="24.9" fill="#cc1d0b" rx="0.5"/>
<rect x="786" y="239.2" width="2" height="21.8" fill="#4a8610"/>
<rect x="785" y="246.2" width="4" height="8.6" fill="#5ca614" rx="0.5"/>
<rect x="791" y="235.3" width="2" height="43.6" fill="#4a8610"/>
<rect x="790" y="239.2" width="4" height="8.6" fill="#5ca614" rx="0.5"/>
<rect x="796" y="228.3" width="2" height="21.8" fill="#4a8610"/>
<rect x="795" y="238.9" width="4" height="2.6" fill="#5ca614" rx="0.5"/>
<rect x="802" y="235.4" width="2" height="25.6" fill="#4a8610"/>
<rect x="801" y="256.9" width="4" height="4.1" fill="#5ca614" rx="0.5"/>
<rect x="807" y="242.0" width="2" height="25.6" fill="#4a8610"/>
<rect x="806" y="242.0" width="4" height="10.1" fill="#5ca614" rx="0.5"/>
<rect x="812" y="237.8" width="2" height="48.9" fill="#ac1a0a"/>
<rect x="811" y="237.8" width="4" height="32.2" fill="#cc1d0b" rx="0.5"/>
<rect x="818" y="249.1" width="2" height="27.4" fill="#ac1a0a"/>
<rect x="817" y="258.0" width="4" height="14.4" fill="#cc1d0b" rx="0.5"/>
<rect x="823" y="256.9" width="2" height="29.1" fill="#4a8610"/>
<rect x="822" y="262.2" width="4" height="3.0" fill="#5ca614" rx="0.5"/>
<rect x="828" y="256.9" width="2" height="18.5" fill="#4a8610"/>
<rect x="827" y="261.0" width="4" height="6.6" fill="#5ca614" rx="0.5"/>
<rect x="834" y="203.2" width="2" height="63.2" fill="#ac1a0a"/>
<rect x="833" y="251.5" width="4" height="13.1" fill="#cc1d0b" rx="0.5"/>
<rect x="839" y="234.2" width="2" height="52.5" fill="#4a8610"/>
<rect x="838" y="237.8" width="4" height="23.8" fill="#5ca614" rx="0.5"/>
<rect x="844" y="225.3" width="2" height="25.0" fill="#4a8610"/>
<rect x="843" y="234.2" width="4" height="4.2" fill="#5ca614" rx="0.5"/>
<rect x="850" y="194.3" width="2" height="39.9" fill="#4a8610"/>
<rect x="849" y="200.3" width="4" height="17.6" fill="#5ca614" rx="0.5"/>
<rect x="855" y="190.5" width="2" height="61.0" fill="#ac1a0a"/>
<rect x="854" y="196.7" width="4" height="22.0" fill="#cc1d0b" rx="0.5"/>
<rect x="860" y="215.2" width="2" height="12.5" fill="#ac1a0a"/>
<rect x="859" y="221.7" width="4" height="3.6" fill="#cc1d0b" rx="0.5"/>
<rect x="866" y="218.7" width="2" height="17.3" fill="#4a8610"/>
<rect x="865" y="218.7" width="4" height="9.0" fill="#5ca614" rx="0.5"/>
<rect x="871" y="203.2" width="2" height="39.4" fill="#ac1a0a"/>
<rect x="870" y="219.1" width="4" height="16.3" fill="#cc1d0b" rx="0.5"/>
<rect x="876" y="232.8" width="2" height="82.6" fill="#ac1a0a"/>
<rect x="875" y="236.5" width="4" height="73.5" fill="#cc1d0b" rx="0.5"/>
<rect x="882" y="313.6" width="2" height="26.6" fill="#ac1a0a"/>
<rect x="881" y="313.6" width="4" height="12.8" fill="#cc1d0b" rx="0.5"/>
<rect x="887" y="311.7" width="2" height="20.3" fill="#4a8610"/>
<rect x="886" y="318.2" width="4" height="10.1" fill="#5ca614" rx="0.5"/>
<rect x="892" y="321.0" width="2" height="26.5" fill="#ac1a0a"/>
<rect x="891" y="321.0" width="4" height="23.8" fill="#cc1d0b" rx="0.5"/>
<rect x="897" y="339.3" width="2" height="13.7" fill="#ac1a0a"/>
<rect x="896" y="339.3" width="4" height="6.4" fill="#cc1d0b" rx="0.5"/>
<rect x="903" y="342.0" width="2" height="28.5" fill="#ac1a0a"/>
<rect x="902" y="342.0" width="4" height="18.4" fill="#cc1d0b" rx="0.5"/>
<rect x="908" y="332.8" width="2" height="30.2" fill="#4a8610"/>
<rect x="907" y="332.8" width="4" height="24.8" fill="#5ca614" rx="0.5"/>
<rect x="913" y="332.0" width="2" height="20.0" fill="#ac1a0a"/>
<rect x="912" y="335.6" width="4" height="10.1" fill="#cc1d0b" rx="0.5"/>
<rect x="919" y="350.3" width="2" height="33.0" fill="#ac1a0a"/>
<rect x="918" y="350.3" width="4" height="10.1" fill="#cc1d0b" rx="0.5"/>
<rect x="924" y="360.4" width="2" height="28.4" fill="#ac1a0a"/>
<rect x="923" y="360.4" width="4" height="22.9" fill="#cc1d0b" rx="0.5"/>
<rect x="929" y="385.0" width="2" height="25.8" fill="#ac1a0a"/>
<rect x="928" y="385.0" width="4" height="18.5" fill="#cc1d0b" rx="0.5"/>
<rect x="935" y="369.5" width="2" height="39.5" fill="#4a8610"/>
<rect x="934" y="375.0" width="4" height="34.0" fill="#5ca614" rx="0.5"/>
<rect x="940" y="369.5" width="2" height="24.7" fill="#ac1a0a"/>
<rect x="939" y="377.0" width="4" height="6.5" fill="#cc1d0b" rx="0.5"/>
<rect x="945" y="354.3" width="2" height="32.7" fill="#4a8610"/>
<rect x="944" y="360.4" width="4" height="21.1" fill="#5ca614" rx="0.5"/>
<rect x="951" y="336.2" width="2" height="38.8" fill="#4a8610"/>
<rect x="950" y="336.2" width="4" height="22.7" fill="#5ca614" rx="0.5"/>
<rect x="956" y="331.8" width="2" height="23.4" fill="#ac1a0a"/>
<rect x="955" y="337.7" width="4" height="13.9" fill="#cc1d0b" rx="0.5"/>
<rect x="961" y="352.3" width="2" height="22.0" fill="#4a8610"/>
<rect x="960" y="356.7" width="4" height="2.3" fill="#5ca614" rx="0.5"/>
<rect x="967" y="347.9" width="2" height="22.7" fill="#ac1a0a"/>
<rect x="966" y="354.5" width="4" height="4.5" fill="#cc1d0b" rx="0.5"/>
<rect x="972" y="328.1" width="2" height="38.1" fill="#ac1a0a"/>
<rect x="971" y="356.7" width="4" height="9.5" fill="#cc1d0b" rx="0.5"/>
<rect x="977" y="309.0" width="2" height="56.5" fill="#4a8610"/>
<rect x="976" y="315.7" width="4" height="49.8" fill="#5ca614" rx="0.5"/>
<rect x="983" y="300.3" width="2" height="18.3" fill="#4a8610"/>
<rect x="982" y="312.0" width="4" height="3.7" fill="#5ca614" rx="0.5"/>
<rect x="987" y="316.4" width="4" height="19.1" fill="#cc1d0b" rx="0.5"/>
<rect x="993" y="312.7" width="2" height="41.1" fill="#ac1a0a"/>
<rect x="992" y="326.7" width="4" height="21.2" fill="#cc1d0b" rx="0.5"/>
<rect x="999" y="325.2" width="2" height="26.4" fill="#4a8610"/>
<rect x="998" y="329.6" width="4" height="22.0" fill="#5ca614" rx="0.5"/>
<rect x="1004" y="337.0" width="2" height="41.7" fill="#ac1a0a"/>
<rect x="1003" y="337.0" width="4" height="3.0" fill="#cc1d0b" rx="0.5"/>
<rect x="1009" y="321.5" width="2" height="16.9" fill="#4a8610"/>
<rect x="1008" y="328.1" width="4" height="10.3" fill="#5ca614" rx="0.5"/>
<rect x="1015" y="320.8" width="2" height="70.6" fill="#ac1a0a"/>
<rect x="1014" y="320.8" width="4" height="62.2" fill="#cc1d0b" rx="0.5"/>
<rect x="1020" y="384.3" width="2" height="38.1" fill="#ac1a0a"/>
<rect x="1019" y="384.3" width="4" height="24.9" fill="#cc1d0b" rx="0.5"/>
<rect x="1025" y="412.9" width="2" height="32.3" fill="#ac1a0a"/>
<rect x="1024" y="412.9" width="4" height="16.9" fill="#cc1d0b" rx="0.5"/>
<rect x="1031" y="415.8" width="2" height="35.2" fill="#4a8610"/>
<rect x="1030" y="437.1" width="4" height="5.1" fill="#5ca614" rx="0.5"/>
<rect x="1036" y="401.9" width="2" height="25.7" fill="#4a8610"/>
<rect x="1035" y="407.8" width="4" height="19.8" fill="#5ca614" rx="0.5"/>
<rect x="1041" y="391.6" width="2" height="19.8" fill="#4a8610"/>
<rect x="1040" y="400.4" width="4" height="8.1" fill="#5ca614" rx="0.5"/>
<rect x="1047" y="400.4" width="2" height="22.0" fill="#ac1a0a"/>
<rect x="1046" y="404.0" width="4" height="1.6" fill="#cc1d0b" rx="0.5"/>
<rect x="1052" y="405.6" width="2" height="36.6" fill="#ac1a0a"/>
<rect x="1051" y="413.6" width="4" height="10.3" fill="#cc1d0b" rx="0.5"/>
<rect x="1057" y="409.2" width="2" height="28.6" fill="#4a8610"/>
<rect x="1056" y="409.2" width="4" height="15.4" fill="#5ca614" rx="0.5"/>
<rect x="1063" y="394.6" width="2" height="22.0" fill="#4a8610"/>
<rect x="1062" y="402.6" width="4" height="9.6" fill="#5ca614" rx="0.5"/>
<rect x="1068" y="379.2" width="2" height="32.2" fill="#4a8610"/>
<rect x="1067" y="385.0" width="4" height="10.3" fill="#5ca614" rx="0.5"/>
<rect x="1073" y="383.6" width="2" height="42.5" fill="#ac1a0a"/>
<rect x="1072" y="388.7" width="4" height="28.6" fill="#cc1d0b" rx="0.5"/>
<rect x="1079" y="387.2" width="2" height="34.5" fill="#4a8610"/>
<rect x="1078" y="391.6" width="4" height="22.8" fill="#5ca614" rx="0.5"/>
<rect x="1084" y="388.0" width="2" height="24.8" fill="#4a8610"/>
<rect x="1083" y="388.0" width="4" height="5.9" fill="#5ca614" rx="0.5"/>
<rect x="1089" y="375.4" width="2" height="18.7" fill="#ac1a0a"/>
<rect x="1088" y="388.6" width="4" height="5.5" fill="#cc1d0b" rx="0.5"/>
<rect x="1094" y="328.7" width="4" height="62.3" fill="#5ca614" rx="0.5"/>
<rect x="1100" y="282.0" width="2" height="46.7" fill="#4a8610"/>
<rect x="1099" y="290.5" width="4" height="38.2" fill="#5ca614" rx="0.5"/>
<rect x="1105" y="274.1" width="2" height="19.5" fill="#4a8610"/>
<rect x="1104" y="274.9" width="4" height="8.6" fill="#5ca614" rx="0.5"/>
<rect x="1111" y="278.0" width="2" height="21.0" fill="#ac1a0a"/>
<rect x="1110" y="278.0" width="4" height="8.6" fill="#cc1d0b" rx="0.5"/>
<rect x="1116" y="265.3" width="2" height="23.7" fill="#4a8610"/>
<rect x="1115" y="271.8" width="4" height="12.5" fill="#5ca614" rx="0.5"/>
<rect x="1121" y="259.3" width="2" height="19.5" fill="#4a8610"/>
<rect x="1120" y="263.2" width="4" height="7.8" fill="#5ca614" rx="0.5"/>
<rect x="1127" y="258.1" width="2" height="34.7" fill="#ac1a0a"/>
<rect x="1126" y="266.4" width="4" height="26.4" fill="#cc1d0b" rx="0.5"/>
<rect x="1132" y="283.5" width="2" height="17.9" fill="#ac1a0a"/>
<rect x="1131" y="289.0" width="4" height="7.7" fill="#cc1d0b" rx="0.5"/>
<rect x="1137" y="298.3" width="2" height="23.4" fill="#ac1a0a"/>
<rect x="1136" y="298.3" width="4" height="14.8" fill="#cc1d0b" rx="0.5"/>
<rect x="1143" y="292.8" width="2" height="25.0" fill="#4a8610"/>
<rect x="1142" y="296.7" width="4" height="21.1" fill="#5ca614" rx="0.5"/>
<rect x="1148" y="274.1" width="2" height="32.0" fill="#4a8610"/>
<rect x="1147" y="287.4" width="4" height="7.8" fill="#5ca614" rx="0.5"/>
<rect x="1153" y="266.8" width="2" height="69.6" fill="#ac1a0a"/>
<rect x="1152" y="280.4" width="4" height="35.0" fill="#cc1d0b" rx="0.5"/>
<rect x="1159" y="316.2" width="2" height="16.4" fill="#4a8610"/>
<rect x="1158" y="316.2" width="4" height="11.1" fill="#5ca614" rx="0.5"/>
<rect x="1164" y="286.6" width="2" height="40.9" fill="#4a8610"/>
<rect x="1163" y="287.4" width="4" height="31.4" fill="#5ca614" rx="0.5"/>
<rect x="1169" y="293.5" width="2" height="38.3" fill="#ac1a0a"/>
<rect x="1168" y="293.5" width="4" height="34.0" fill="#cc1d0b" rx="0.5"/>
<rect x="1175" y="311.0" width="2" height="51.3" fill="#ac1a0a"/>
<rect x="1174" y="317.0" width="4" height="38.4" fill="#cc1d0b" rx="0.5"/>
<rect x="1180" y="354.5" width="2" height="29.6" fill="#ac1a0a"/>
<rect x="1179" y="358.0" width="4" height="8.7" fill="#cc1d0b" rx="0.5"/>
<rect x="1185" y="354.5" width="2" height="37.5" fill="#4a8610"/>
<rect x="1184" y="364.0" width="4" height="2.0" fill="#5ca614" rx="0.5"/>
<rect x="1191" y="363.2" width="2" height="35.7" fill="#ac1a0a"/>
<rect x="1190" y="363.2" width="4" height="30.5" fill="#cc1d0b" rx="0.5"/>
<rect x="1196" y="392.8" width="2" height="32.2" fill="#ac1a0a"/>
<rect x="1195" y="397.2" width="4" height="23.5" fill="#cc1d0b" rx="0.5"/>
<rect x="1201" y="410.2" width="2" height="18.3" fill="#ac1a0a"/>
<rect x="1200" y="419.0" width="4" height="7.0" fill="#cc1d0b" rx="0.5"/>
<rect x="1207" y="405.9" width="2" height="24.4" fill="#4a8610"/>
<rect x="1206" y="419.0" width="4" height="7.0" fill="#5ca614" rx="0.5"/>
<rect x="1212" y="413.7" width="2" height="19.2" fill="#ac1a0a"/>
<rect x="1211" y="423.0" width="4" height="2.0" fill="#cc1d0b" rx="0.5"/>
<rect x="1217" y="421.6" width="2" height="24.4" fill="#ac1a0a"/>
<rect x="1216" y="426.0" width="4" height="2.5" fill="#cc1d0b" rx="0.5"/>
<rect x="1222" y="424.2" width="2" height="30.5" fill="#ac1a0a"/>
<rect x="1221" y="430.3" width="4" height="2.6" fill="#cc1d0b" rx="0.5"/>
<rect x="1228" y="419.0" width="2" height="25.2" fill="#ac1a0a"/>
<rect x="1227" y="435.5" width="4" height="3.5" fill="#cc1d0b" rx="0.5"/>
<rect x="1233" y="407.6" width="2" height="40.1" fill="#4a8610"/>
<rect x="1232" y="427.7" width="4" height="14.8" fill="#5ca614" rx="0.5"/>
<rect x="1238" y="415.5" width="2" height="13.9" fill="#ac1a0a"/>
<rect x="1237" y="423.3" width="4" height="3.5" fill="#cc1d0b" rx="0.5"/>
<rect x="1244" y="390.2" width="2" height="37.5" fill="#4a8610"/>
<rect x="1243" y="390.2" width="4" height="32.2" fill="#5ca614" rx="0.5"/>
<rect x="1249" y="379.8" width="2" height="14.8" fill="#4a8610"/>
<rect x="1248" y="383.2" width="4" height="7.0" fill="#5ca614" rx="0.5"/>
<rect x="1254" y="324.0" width="2" height="59.2" fill="#4a8610"/>
<rect x="1253" y="325.7" width="4" height="57.5" fill="#5ca614" rx="0.5"/>
<rect x="1260" y="325.4" width="2" height="16.9" fill="#ac1a0a"/>
<rect x="1259" y="326.6" width="4" height="8.7" fill="#cc1d0b" rx="0.5"/>
<rect x="1265" y="321.9" width="2" height="29.1" fill="#4a8610"/>
<rect x="1264" y="333.6" width="4" height="4.0" fill="#5ca614" rx="0.5"/>
<rect x="1270" y="324.4" width="2" height="17.9" fill="#ac1a0a"/>
<rect x="1269" y="330.1" width="4" height="2.6" fill="#cc1d0b" rx="0.5"/>
<rect x="1276" y="295.3" width="2" height="40.9" fill="#4a8610"/>
<rect x="1275" y="299.6" width="4" height="31.4" fill="#5ca614" rx="0.5"/>
<rect x="1281" y="283.0" width="2" height="30.6" fill="#ac1a0a"/>
<rect x="1280" y="299.6" width="4" height="2.6" fill="#cc1d0b" rx="0.5"/>
<rect x="1285" y="306.6" width="4" height="15.7" fill="#cc1d0b" rx="0.5"/>
<rect x="1292" y="295.3" width="2" height="41.7" fill="#ac1a0a"/>
<rect x="1291" y="319.7" width="4" height="15.6" fill="#cc1d0b" rx="0.5"/>
<rect x="1297" y="330.1" width="2" height="51.4" fill="#ac1a0a"/>
<rect x="1296" y="334.5" width="4" height="43.5" fill="#cc1d0b" rx="0.5"/>
<rect x="1302" y="375.0" width="2" height="36.3" fill="#ac1a0a"/>
<rect x="1301" y="375.4" width="4" height="24.4" fill="#cc1d0b" rx="0.5"/>
<rect x="1308" y="399.3" width="2" height="23.1" fill="#ac1a0a"/>
<rect x="1307" y="399.3" width="4" height="17.3" fill="#cc1d0b" rx="0.5"/>
<rect x="1313" y="403.2" width="2" height="19.2" fill="#ac1a0a"/>
<rect x="1312" y="414.0" width="4" height="7.1" fill="#cc1d0b" rx="0.5"/>
<rect x="1318" y="398.0" width="2" height="22.5" fill="#4a8610"/>
<rect x="1317" y="407.0" width="4" height="12.2" fill="#5ca614" rx="0.5"/>
<rect x="1324" y="401.9" width="2" height="22.5" fill="#4a8610"/>
<rect x="1323" y="405.7" width="4" height="1.6" fill="#5ca614" rx="0.5"/>
<rect x="1329" y="407.0" width="2" height="21.8" fill="#ac1a0a"/>
<rect x="1328" y="407.0" width="4" height="11.6" fill="#cc1d0b" rx="0.5"/>
<rect x="1334" y="415.4" width="2" height="42.3" fill="#ac1a0a"/>
<rect x="1333" y="420.5" width="4" height="10.9" fill="#cc1d0b" rx="0.5"/>
<rect x="1340" y="395.5" width="2" height="40.4" fill="#4a8610"/>
<rect x="1339" y="405.7" width="4" height="30.2" fill="#5ca614" rx="0.5"/>
<rect x="1345" y="398.7" width="2" height="17.9" fill="#4a8610"/>
<rect x="1344" y="398.7" width="4" height="12.8" fill="#5ca614" rx="0.5"/>
<rect x="1350" y="390.3" width="2" height="18.7" fill="#ac1a0a"/>
<rect x="1349" y="396.8" width="4" height="5.7" fill="#cc1d0b" rx="0.5"/>
<rect x="1356" y="375.6" width="2" height="34.6" fill="#4a8610"/>
<rect x="1355" y="379.4" width="4" height="21.8" fill="#5ca614" rx="0.5"/>
<rect x="1361" y="384.6" width="2" height="41.7" fill="#4a8610"/>
<rect x="1360" y="390.3" width="4" height="8.4" fill="#5ca614" rx="0.5"/>
<rect x="1366" y="367.2" width="2" height="20.6" fill="#4a8610"/>
<rect x="1365" y="378.1" width="4" height="9.7" fill="#5ca614" rx="0.5"/>
<rect x="1372" y="374.3" width="2" height="38.5" fill="#ac1a0a"/>
<rect x="1371" y="380.7" width="4" height="27.0" fill="#cc1d0b" rx="0.5"/>
<rect x="1377" y="405.5" width="2" height="18.2" fill="#ac1a0a"/>
<rect x="1376" y="405.5" width="4" height="13.0" fill="#cc1d0b" rx="0.5"/>
<rect x="1382" y="422.7" width="2" height="29.6" fill="#ac1a0a"/>
<rect x="1381" y="422.7" width="4" height="24.3" fill="#cc1d0b" rx="0.5"/>
<rect x="1388" y="433.1" width="2" height="20.1" fill="#ac1a0a"/>
<rect x="1387" y="441.8" width="4" height="4.4" fill="#cc1d0b" rx="0.5"/>
<rect x="1393" y="380.9" width="2" height="90.6" fill="#ac1a0a"/>
<rect x="1392" y="439.2" width="4" height="24.4" fill="#cc1d0b" rx="0.5"/>
<rect x="1398" y="465.4" width="2" height="73.1" fill="#ac1a0a"/>
<rect x="1397" y="465.4" width="4" height="60.9" fill="#cc1d0b" rx="0.5"/>
<rect x="1404" y="516.8" width="2" height="43.5" fill="#4a8610"/>
<rect x="1403" y="528.0" width="4" height="5.3" fill="#5ca614" rx="0.5"/>
<rect x="1409" y="516.8" width="2" height="44.4" fill="#ac1a0a"/>
<rect x="1408" y="528.0" width="4" height="15.8" fill="#cc1d0b" rx="0.5"/>
<rect x="1414" y="523.7" width="2" height="37.5" fill="#ac1a0a"/>
<rect x="1413" y="540.3" width="4" height="11.3" fill="#cc1d0b" rx="0.5"/>
<rect x="1420" y="506.3" width="2" height="49.7" fill="#4a8610"/>
<rect x="1419" y="506.3" width="4" height="38.3" fill="#5ca614" rx="0.5"/>
<rect x="1425" y="481.9" width="2" height="27.0" fill="#ac1a0a"/>
<rect x="1424" y="494.1" width="4" height="2.6" fill="#cc1d0b" rx="0.5"/>
<rect x="1430" y="485.4" width="2" height="17.4" fill="#ac1a0a"/>
<rect x="1429" y="488.9" width="4" height="5.2" fill="#cc1d0b" rx="0.5"/>
<rect x="1436" y="475.0" width="2" height="19.1" fill="#4a8610"/>
<rect x="1435" y="481.9" width="4" height="7.9" fill="#5ca614" rx="0.5"/>
<rect x="1441" y="467.1" width="2" height="32.2" fill="#ac1a0a"/>
<rect x="1440" y="478.4" width="4" height="14.8" fill="#cc1d0b" rx="0.5"/>
<rect x="1446" y="431.4" width="2" height="61.8" fill="#4a8610"/>
<rect x="1445" y="435.8" width="4" height="57.4" fill="#5ca614" rx="0.5"/>
<rect x="1452" y="435.8" width="2" height="16.6" fill="#ac1a0a"/>
<rect x="1451" y="435.8" width="4" height="8.9" fill="#cc1d0b" rx="0.5"/>
<rect x="1457" y="419.4" width="2" height="33.0" fill="#4a8610"/>
<rect x="1456" y="428.2" width="4" height="15.4" fill="#5ca614" rx="0.5"/>
<rect x="1462" y="399.0" width="2" height="41.3" fill="#4a8610"/>
<rect x="1461" y="423.3" width="4" height="9.3" fill="#5ca614" rx="0.5"/>
<rect x="1468" y="416.7" width="2" height="27.5" fill="#4a8610"/>
<rect x="1467" y="428.2" width="4" height="2.2" fill="#5ca614" rx="0.5"/>
<rect x="1473" y="375.4" width="2" height="55.0" fill="#4a8610"/>
<rect x="1472" y="399.0" width="4" height="19.3" fill="#5ca614" rx="0.5"/>
<rect x="1478" y="399.0" width="2" height="37.5" fill="#ac1a0a"/>
<rect x="1477" y="399.0" width="4" height="18.8" fill="#cc1d0b" rx="0.5"/>
<rect x="1484" y="409.5" width="2" height="31.4" fill="#4a8610"/>
<rect x="1483" y="423.3" width="4" height="1.6" fill="#5ca614" rx="0.5"/>
<rect x="1489" y="419.4" width="2" height="29.7" fill="#ac1a0a"/>
<rect x="1488" y="425.5" width="4" height="4.4" fill="#cc1d0b" rx="0.5"/>
<rect x="1494" y="413.4" width="2" height="43.4" fill="#ac1a0a"/>
<rect x="1493" y="429.3" width="4" height="7.2" fill="#cc1d0b" rx="0.5"/>
<rect x="1500" y="414.5" width="2" height="29.7" fill="#ac1a0a"/>
<rect x="1499" y="432.6" width="4" height="4.4" fill="#cc1d0b" rx="0.5"/>
<rect x="1505" y="384.2" width="2" height="39.6" fill="#4a8610"/>
<rect x="1504" y="405.7" width="4" height="9.3" fill="#5ca614" rx="0.5"/>
<rect x="1509" y="401.8" width="4" height="38.5" fill="#cc1d0b" rx="0.5"/>
<rect x="1516" y="423.3" width="2" height="29.1" fill="#ac1a0a"/>
<rect x="1515" y="433.7" width="4" height="9.9" fill="#cc1d0b" rx="0.5"/>
<rect x="1521" y="415.6" width="2" height="29.7" fill="#ac1a0a"/>
<rect x="1520" y="427.1" width="4" height="12.1" fill="#cc1d0b" rx="0.5"/>
<rect x="1526" y="405.1" width="2" height="45.7" fill="#4a8610"/>
<rect x="1525" y="411.7" width="4" height="25.3" fill="#5ca614" rx="0.5"/>
<rect x="1532" y="409.0" width="2" height="15.9" fill="#ac1a0a"/>
<rect x="1531" y="409.0" width="4" height="7.1" fill="#cc1d0b" rx="0.5"/>
<rect x="1537" y="421.6" width="2" height="38.5" fill="#ac1a0a"/>
<rect x="1536" y="421.6" width="4" height="34.1" fill="#cc1d0b" rx="0.5"/>
<polyline points="40.7,508.5 46.0,508.5 51.3,508.7 56.7,512.5 62.0,521.6 67.3,531.9 72.7,546.8 78.0,561.3 83.3,573.7 88.6,585.1 94.0,587.3 99.3,591.8 104.6,598.3 109.9,589.8 115.3,585.1 120.6,580.1 125.9,584.4 131.3,592.7 136.6,597.8 141.9,603.8 147.2,607.4 152.6,608.5 157.9,608.9 163.2,608.1 168.6,606.8 173.9,605.4 179.2,606.2 184.5,604.1 189.9,602.8 195.2,602.7 200.5,595.1 205.8,587.1 211.2,576.5 216.5,567.9 221.8,557.8 227.2,548.7 232.5,538.1 237.8,531.4 243.1,525.3 248.5,523.0 253.8,520.5 259.1,518.6 264.5,516.2 269.8,512.3 275.1,508.8 280.4,507.9 285.8,504.8 291.1,500.3 296.4,490.0 301.8,478.5 307.1,472.6 312.4,467.4 317.7,459.5 323.1,450.3 328.4,439.5 333.7,431.8 339.1,421.3 344.4,410.9 349.7,406.2 355.0,401.7 360.4,398.3 365.7,389.4 371.0,381.8 376.3,378.1 381.7,371.4 387.0,367.5 392.3,361.7 397.7,357.6 403.0,352.5 408.3,349.4 413.6,349.3 419.0,346.4 424.3,344.7 429.6,344.0 435.0,344.3 440.3,341.7 445.6,337.2 450.9,335.0 456.3,335.4 461.6,334.3 466.9,332.6 472.2,333.7 477.6,333.3 482.9,332.0 488.2,330.4 493.6,331.2 498.9,331.0 504.2,330.3 509.5,331.3 514.9,331.6 520.2,338.7 525.5,345.9 530.9,352.8 536.2,357.9 541.5,364.2 546.8,370.2 552.2,376.9 557.5,383.4 562.8,390.9 568.2,396.8 573.5,402.2 578.8,406.3 584.1,411.5 589.5,418.4 594.8,427.7 600.1,436.6 605.5,443.2 610.8,449.1 616.1,455.5 621.4,459.6 626.8,463.7 632.1,472.7 637.4,480.8 642.7,488.0 648.1,492.7 653.4,489.9 658.7,486.4 664.1,484.4 669.4,483.5 674.7,478.2 680.0,472.5 685.4,468.4 690.7,462.4 696.0,454.5 701.4,446.9 706.7,441.0 712.0,434.1 717.3,427.7 722.7,418.5 728.0,409.3 733.3,401.8 738.6,388.8 744.0,377.3 749.3,366.5 754.6,357.8 760.0,348.1 765.3,338.0 770.6,326.1 775.9,317.9 781.3,312.4 786.6,306.4 791.9,300.3 797.3,294.7 802.6,291.3 807.9,286.8 813.2,285.3 818.6,284.1 823.9,282.1 829.2,280.2 834.6,278.8 839.9,275.0 845.2,271.3 850.5,264.9 855.9,260.7 861.2,257.5 866.5,253.9 871.9,252.3 877.2,257.5 882.5,263.8 887.8,268.7 893.2,275.6 898.5,282.0 903.8,289.1 909.1,293.1 914.5,297.9 919.8,303.6 925.1,310.8 930.5,319.2 935.8,324.3 941.1,329.7 946.4,332.5 951.8,332.8 957.1,334.5 962.4,336.5 967.8,338.6 973.1,341.1 978.4,338.8 983.7,336.4 989.1,336.3 994.4,337.3 999.7,336.6 1005.1,336.9 1010.4,336.1 1015.7,340.4 1021.0,346.6 1026.4,354.2 1031.7,361.7 1037.0,365.9 1042.3,369.1 1047.7,372.4 1053.0,377.1 1058.3,380.0 1063.7,382.0 1069.0,382.3 1074.3,385.5 1079.6,386.0 1085.0,386.2 1090.3,386.9 1095.6,381.6 1101.0,373.4 1106.3,364.4 1111.6,357.3 1116.9,349.6 1122.3,341.7 1127.6,337.3 1132.9,333.6 1138.2,331.7 1143.6,328.5 1148.9,324.8 1154.2,323.9 1159.6,323.2 1164.9,320.0 1170.2,320.7 1175.5,323.8 1180.9,327.7 1186.2,331.0 1191.5,336.7 1196.9,344.3 1202.2,351.8 1207.5,357.9 1212.8,364.0 1218.2,369.9 1223.5,375.6 1228.8,381.3 1234.2,385.6 1239.5,389.3 1244.8,389.4 1250.1,388.8 1255.5,383.1 1260.8,378.7 1266.1,374.6 1271.5,370.8 1276.8,364.4 1282.1,358.7 1287.4,355.4 1292.8,353.6 1298.1,355.8 1303.4,359.8 1308.7,365.0 1314.1,370.1 1319.4,373.4 1324.7,376.4 1330.1,380.2 1335.4,384.8 1340.7,386.7 1346.0,387.8 1351.4,389.2 1356.7,388.3 1362.0,388.5 1367.4,387.5 1372.7,389.4 1378.0,392.0 1383.3,397.0 1388.7,401.5 1394.0,407.1 1399.3,418.0 1404.7,428.0 1410.0,438.5 1415.3,448.8 1420.6,454.0 1426.0,457.9 1431.3,461.2 1436.6,463.1 1441.9,465.8 1447.3,463.1 1452.6,461.4 1457.9,458.4 1463.3,455.2 1468.6,452.7 1473.9,447.9 1479.2,445.1 1484.6,443.1 1489.9,441.9 1495.2,441.4 1500.6,441.0 1505.9,437.8 1511.2,438.1 1516.5,438.6 1521.9,438.6 1527.2,436.2 1532.5,434.3 1537.9,436.3" fill="none" stroke="#0444b4" stroke-width="3.0" stroke-linejoin="round" />
<polyline points="40.7,546.0 46.0,543.3 51.3,538.7 56.7,540.3 62.0,550.6 67.3,562.7 72.7,581.6 78.0,599.6 83.3,613.6 88.6,625.8 94.0,623.4 99.3,625.3 104.6,630.7 109.9,612.8 115.3,602.1 120.6,591.8 125.9,596.8 131.3,608.2 136.6,614.0 141.9,621.1 147.2,624.3 152.6,623.5 157.9,622.1 163.2,618.9 168.6,615.3 173.9,612.0 179.2,612.2 184.5,608.0 189.9,605.4 195.2,605.0 200.5,592.7 205.8,580.4 211.2,564.7 216.5,552.9 221.8,539.1 227.2,527.5 232.5,513.9 237.8,506.9 243.1,500.8 248.5,500.7 253.8,499.9 259.1,499.9 264.5,498.7 269.8,495.1 275.1,492.0 280.4,493.1 285.8,490.4 291.1,485.3 296.4,471.3 301.8,455.9 307.1,449.9 312.4,444.9 317.7,435.7 323.1,424.7 328.4,411.4 333.7,403.3 339.1,390.9 344.4,378.9 349.7,376.0 355.0,373.3 360.4,372.0 365.7,361.8 371.0,353.7 376.3,352.0 381.7,345.1 387.0,342.8 392.3,337.2 397.7,334.2 403.0,329.6 408.3,328.0 413.6,330.9 419.0,328.9 424.3,328.8 429.6,330.0 435.0,332.5 440.3,330.0 445.6,324.6 450.9,323.0 456.3,325.3 461.6,325.0 466.9,323.7 472.2,326.7 477.6,327.0 482.9,325.9 488.2,324.2 493.6,326.4 498.9,326.8 504.2,326.2 509.5,328.4 514.9,329.3 520.2,340.8 525.5,351.8 530.9,361.9 536.2,368.6 541.5,376.9 546.8,384.5 552.2,393.0 557.5,400.9 562.8,410.2 568.2,416.7 573.5,422.4 578.8,426.0 584.1,431.3 589.5,439.3 594.8,450.9 600.1,461.6 605.5,468.3 610.8,474.0 616.1,480.6 621.4,483.4 626.8,486.5 632.1,497.4 637.4,506.6 642.7,514.2 648.1,517.9 653.4,509.8 658.7,501.5 664.1,496.1 669.4,493.1 674.7,483.4 680.0,473.7 685.4,467.1 690.7,457.9 696.0,446.1 701.4,435.4 706.7,427.7 712.0,418.8 717.3,410.9 722.7,398.9 728.0,387.2 733.3,378.6 738.6,361.4 744.0,347.3 749.3,334.7 754.6,325.5 760.0,314.9 765.3,303.8 770.6,290.0 775.9,282.2 781.3,278.7 786.6,274.1 791.9,269.1 797.3,264.8 802.6,263.6 807.9,260.6 813.2,261.9 818.6,263.4 823.9,263.2 829.2,262.9 834.6,263.2 839.9,259.5 845.2,255.9 850.5,248.0 855.9,243.8 861.2,241.1 866.5,237.9 871.9,237.6 877.2,247.9 882.5,259.1 887.8,267.6 893.2,278.6 898.5,288.2 903.8,298.5 909.1,303.4 914.5,309.4 919.8,316.7 925.1,326.2 930.5,337.3 935.8,342.7 941.1,348.5 946.4,350.2 951.8,348.2 957.1,348.7 962.4,349.8 967.8,351.1 973.1,353.3 978.4,347.9 983.7,342.8 989.1,341.7 994.4,342.6 999.7,340.8 1005.1,340.7 1010.4,338.9 1015.7,345.2 1021.0,354.3 1026.4,365.1 1031.7,375.4 1037.0,380.0 1042.3,382.9 1047.7,386.2 1053.0,391.6 1058.3,394.1 1063.7,395.3 1069.0,393.8 1074.3,397.2 1079.6,396.4 1085.0,395.2 1090.3,395.0 1095.6,385.6 1101.0,372.0 1106.3,358.1 1111.6,347.9 1116.9,337.0 1122.3,326.5 1127.6,321.7 1132.9,318.1 1138.2,317.4 1143.6,314.4 1148.9,310.6 1154.2,311.3 1159.6,312.0 1164.9,308.5 1170.2,311.2 1175.5,317.5 1180.9,324.5 1186.2,330.2 1191.5,339.2 1196.9,350.9 1202.2,361.6 1207.5,369.8 1212.8,377.7 1218.2,385.0 1223.5,391.8 1228.8,398.5 1234.2,402.7 1239.5,406.1 1244.8,403.9 1250.1,400.9 1255.5,390.2 1260.8,382.3 1266.1,375.4 1271.5,369.3 1276.8,359.3 1282.1,351.2 1287.4,347.0 1292.8,345.4 1298.1,350.0 1303.4,357.1 1308.7,365.6 1314.1,373.6 1319.4,378.3 1324.7,382.2 1330.1,387.4 1335.4,393.7 1340.7,395.4 1346.0,395.9 1351.4,396.8 1356.7,394.3 1362.0,393.8 1367.4,391.5 1372.7,393.8 1378.0,397.4 1383.3,404.5 1388.7,410.4 1394.0,418.0 1399.3,433.5 1404.7,447.0 1410.0,460.8 1415.3,473.8 1420.6,478.4 1426.0,481.0 1431.3,482.9 1436.6,482.8 1441.9,484.3 1447.3,477.3 1452.6,472.7 1457.9,466.3 1463.3,460.2 1468.6,455.6 1473.9,447.5 1479.2,443.3 1484.6,440.4 1489.9,438.9 1495.2,438.6 1500.6,438.3 1505.9,433.7 1511.2,434.6 1516.5,435.9 1521.9,436.4 1527.2,432.9 1532.5,430.5 1537.9,434.1" fill="none" stroke="#52728a" stroke-width="1.5" stroke-linejoin="round" />
<polyline points="40.7,592.5 46.0,574.0 51.3,553.0 56.7,552.0 62.0,572.2 67.3,593.1 72.7,627.2 78.0,653.8 83.3,668.5 88.6,678.7 94.0,655.4 99.3,649.3 104.6,653.9 109.9,604.4 115.3,582.1 120.6,564.8 125.9,585.5 131.3,615.8 136.6,626.8 141.9,639.2 147.2,640.5 152.6,633.3 157.9,626.7 163.2,617.8 168.6,609.7 173.9,603.8 179.2,607.1 184.5,599.0 189.9,595.9 195.2,598.1 200.5,571.7 205.8,550.1 211.2,523.6 216.5,509.8 221.8,491.9 227.2,480.6 232.5,464.4 237.8,464.5 243.1,464.5 248.5,476.3 253.8,482.5 259.1,488.3 264.5,489.5 269.8,484.1 275.1,480.6 280.4,487.0 285.8,482.6 291.1,473.3 296.4,444.8 301.8,417.5 307.1,416.3 312.4,415.9 317.7,404.2 323.1,389.0 328.4,369.8 333.7,364.7 339.1,348.7 344.4,334.8 349.7,342.8 355.0,347.5 360.4,353.1 365.7,335.5 371.0,325.4 376.3,330.8 381.7,322.0 387.0,324.3 392.3,317.2 397.7,317.0 403.0,311.9 408.3,314.2 413.6,325.5 419.0,322.6 424.3,324.6 429.6,328.6 435.0,335.0 440.3,328.4 445.6,316.3 450.9,315.3 456.3,323.1 461.6,323.3 466.9,320.9 472.2,328.7 477.6,328.8 482.9,325.6 488.2,321.7 493.6,327.7 498.9,328.1 504.2,326.4 509.5,331.4 514.9,332.6 520.2,358.2 525.5,378.2 530.9,392.8 536.2,398.2 541.5,407.7 546.8,415.1 552.2,424.9 557.5,432.5 562.8,443.8 568.2,447.7 573.5,450.6 578.8,449.6 584.1,454.1 589.5,465.3 594.8,483.6 600.1,497.8 605.5,501.3 610.8,503.7 616.1,509.1 621.4,506.1 626.8,505.7 632.1,524.7 637.4,537.1 642.7,544.8 648.1,543.2 653.4,515.8 658.7,494.5 664.1,484.2 669.4,481.1 674.7,462.5 680.0,446.8 685.4,440.4 690.7,427.9 696.0,410.4 701.4,397.2 706.7,392.1 712.0,383.2 717.3,376.5 722.7,360.1 728.0,345.8 733.3,339.3 738.6,312.5 744.0,295.8 749.3,283.5 754.6,279.1 760.0,269.9 765.3,258.9 770.6,241.7 775.9,239.6 781.3,245.7 786.6,245.9 791.9,243.6 797.3,242.1 802.6,247.0 807.9,245.3 813.2,253.6 818.6,259.8 823.9,260.6 829.2,260.8 834.6,262.0 839.9,254.0 845.2,247.4 850.5,231.7 855.9,227.4 861.2,226.7 866.5,224.0 871.9,227.8 877.2,255.2 882.5,278.9 887.8,292.0 893.2,309.6 898.5,321.6 903.8,334.6 909.1,334.0 914.5,337.9 919.8,345.4 925.1,358.0 930.5,373.2 935.8,373.8 941.1,377.0 946.4,371.5 951.8,359.7 957.1,357.0 962.4,356.9 967.8,357.6 973.1,360.5 978.4,345.5 983.7,334.4 989.1,334.7 994.4,339.1 999.7,336.0 1005.1,337.3 1010.4,334.2 1015.7,350.5 1021.0,370.1 1026.4,390.0 1031.7,405.7 1037.0,406.4 1042.3,404.4 1047.7,404.8 1053.0,411.2 1058.3,410.5 1063.7,407.9 1069.0,400.2 1074.3,405.9 1079.6,401.2 1085.0,396.8 1090.3,395.9 1095.6,373.5 1101.0,345.8 1106.3,322.2 1111.6,310.3 1116.9,297.5 1122.3,286.1 1127.6,288.3 1132.9,291.1 1138.2,298.4 1143.6,297.9 1148.9,294.4 1154.2,301.4 1159.6,306.3 1164.9,300.0 1170.2,309.2 1175.5,324.6 1180.9,338.6 1186.2,347.1 1191.5,362.6 1196.9,382.0 1202.2,396.7 1207.5,404.1 1212.8,411.1 1218.2,416.9 1223.5,422.2 1228.8,427.8 1234.2,427.8 1239.5,427.5 1244.8,415.0 1250.1,404.4 1255.5,378.2 1260.8,363.9 1266.1,353.8 1271.5,346.8 1276.8,331.0 1282.1,321.4 1287.4,321.7 1292.8,326.2 1298.1,343.5 1303.4,362.3 1308.7,380.4 1314.1,394.0 1319.4,398.3 1324.7,400.8 1330.1,406.7 1335.4,414.9 1340.7,411.9 1346.0,407.5 1351.4,405.8 1356.7,397.0 1362.0,394.8 1367.4,389.2 1372.7,395.4 1378.0,403.1 1383.3,417.7 1388.7,427.2 1394.0,439.3 1399.3,468.3 1404.7,488.2 1410.0,506.7 1415.3,521.7 1420.6,516.6 1426.0,509.9 1431.3,504.7 1436.6,497.1 1441.9,495.8 1447.3,475.8 1452.6,465.4 1457.9,453.0 1463.3,443.1 1468.6,438.1 1473.9,425.1 1479.2,422.7 1484.6,422.9 1489.9,425.2 1495.2,429.0 1500.6,431.7 1505.9,423.0 1511.2,428.8 1516.5,433.7 1521.9,435.5 1527.2,427.6 1532.5,423.8 1537.9,434.4" fill="none" stroke="#a2bdd0" stroke-width="1.6" stroke-linejoin="round" />
<line x1="855.1" y1="189.8" x2="1567" y2="340.9" stroke="#6496ba" stroke-width="3.2"/>
<text x="79" y="190.2" font-size="15" fill="#d0d000" textLength="98.6" lengthAdjust="spacingAndGlyphs" >0.000 (26.920)</text>
<text x="79" y="455.2" font-size="15" fill="#d0d000" textLength="98.6" lengthAdjust="spacingAndGlyphs" >0.500 (22.585)</text>
<text x="79" y="718.8" font-size="15" fill="#d0d000" textLength="98.6" lengthAdjust="spacingAndGlyphs" >1.000 (18.250)</text>
</g>
<text x="60.5" y="126" font-size="14.6" fill="#10d8dc" font-weight="bold" textLength="291.5" lengthAdjust="spacingAndGlyphs" >EMA (price=CLOSE, length=5, displace=0)</text>
<text x="60.5" y="154.5" font-size="14.6" fill="#10d8dc" font-weight="bold" textLength="300.3" lengthAdjust="spacingAndGlyphs" >EMA (price=CLOSE, length=13, displace=0)</text>
<text x="60.5" y="183" font-size="14.6" fill="#10d8dc" font-weight="bold" textLength="300.3" lengthAdjust="spacingAndGlyphs" >EMA (price=CLOSE, length=21, displace=0)</text>
<text x="1571.8" y="739.84" font-size="16.5" fill="#9a9a9a" textLength="16" lengthAdjust="spacingAndGlyphs" >18</text>
<text x="1571.8" y="679.08" font-size="16.5" fill="#9a9a9a" textLength="16" lengthAdjust="spacingAndGlyphs" >19</text>
<text x="1571.8" y="618.32" font-size="16.5" fill="#9a9a9a" textLength="16" lengthAdjust="spacingAndGlyphs" >20</text>
<text x="1571.8" y="557.5600000000001" font-size="16.5" fill="#9a9a9a" textLength="16" lengthAdjust="spacingAndGlyphs" >21</text>
<text x="1571.8" y="496.80000000000007" font-size="16.5" fill="#9a9a9a" textLength="16" lengthAdjust="spacingAndGlyphs" >22</text>
<text x="1571.8" y="436.04" font-size="16.5" fill="#9a9a9a" textLength="16" lengthAdjust="spacingAndGlyphs" >23</text>
<text x="1571.8" y="375.28000000000003" font-size="16.5" fill="#9a9a9a" textLength="16" lengthAdjust="spacingAndGlyphs" >24</text>
<text x="1571.8" y="314.52000000000004" font-size="16.5" fill="#9a9a9a" textLength="16" lengthAdjust="spacingAndGlyphs" >25</text>
<text x="1571.8" y="253.76" font-size="16.5" fill="#9a9a9a" textLength="16" lengthAdjust="spacingAndGlyphs" >26</text>
<text x="1571.8" y="193.0" font-size="16.5" fill="#9a9a9a" textLength="16" lengthAdjust="spacingAndGlyphs" >27</text>
<text x="1571.8" y="132.24" font-size="16.5" fill="#9a9a9a" textLength="16" lengthAdjust="spacingAndGlyphs" >28</text>
<rect x="1571" y="423" width="44" height="21.5" rx="4" fill="#0a46b8"/><rect x="1571" y="423" width="44" height="3" rx="2" fill="#7fa6c4"/>
<text x="1572" y="442.2" font-size="16.5" fill="#000" textLength="45" lengthAdjust="spacingAndGlyphs" >22.905</text>
<rect x="1571" y="444.5" width="44" height="19.8" rx="5" fill="#dc1400"/>
<text x="1572" y="461" font-size="16.5" fill="#000" textLength="45" lengthAdjust="spacingAndGlyphs" >22.605</text>
<line x1="44" y1="852.3" x2="1567" y2="852.3" stroke="#9a9a9a" stroke-width="1.2"/>
<g clip-path="url(#cm)">
<polyline points="40.7,880.6 46.0,880.6 51.3,880.9 56.7,880.7 62.0,880.8 67.3,881.1 72.7,882.2 78.0,883.6 83.3,885.1 88.6,886.4 94.0,886.7 99.3,886.4 104.6,886.0 109.9,884.0 115.3,881.3 120.6,878.1 125.9,875.8 131.3,874.4 136.6,873.4 141.9,872.9 147.2,872.3 152.6,871.6 157.9,870.6 163.2,869.4 168.6,868.0 173.9,866.5 179.2,865.2 184.5,863.8 189.9,862.4 195.2,861.2 200.5,859.3 205.8,857.0 211.2,854.2 216.5,851.4 221.8,848.4 227.2,845.5 232.5,842.6 237.8,840.2 243.1,838.2 248.5,836.9 253.8,836.2 259.1,836.0 264.5,836.0 269.8,836.0 275.1,836.1 280.4,836.5 285.8,836.8 291.1,837.0 296.4,836.4 301.8,835.2 307.1,834.2 312.4,833.5 317.7,832.6 323.1,831.5 328.4,830.2 333.7,829.1 339.1,827.8 344.4,826.4 349.7,825.6 355.0,825.3 360.4,825.4 365.7,825.3 371.0,825.0 376.3,825.2 381.7,825.3 387.0,825.6 392.3,825.9 397.7,826.4 403.0,826.8 408.3,827.4 413.6,828.5 419.0,829.5 424.3,830.6 429.6,831.8 435.0,833.2 440.3,834.3 445.6,835.1 450.9,835.8 456.3,836.8 461.6,837.7 466.9,838.5 472.2,839.5 477.6,840.5 482.9,841.3 488.2,842.0 493.6,842.7 498.9,843.5 504.2,844.2 509.5,844.9 514.9,845.6 520.2,847.0 525.5,848.9 530.9,850.9 536.2,852.9 541.5,854.9 546.8,856.8 552.2,858.7 557.5,860.5 562.8,862.3 568.2,863.9 573.5,865.3 578.8,866.3 584.1,867.2 589.5,868.1 594.8,869.3 600.1,870.6 605.5,871.7 610.8,872.6 616.1,873.4 621.4,873.8 626.8,873.9 632.1,874.4 637.4,875.0 642.7,875.6 648.1,875.9 653.4,875.2 658.7,873.8 664.1,872.1 669.4,870.3 674.7,868.0 680.0,865.5 685.4,863.0 690.7,860.4 696.0,857.6 701.4,854.7 706.7,852.1 712.0,849.5 717.3,847.2 722.7,844.8 728.0,842.4 733.3,840.2 738.6,837.7 744.0,835.1 749.3,832.7 754.6,830.6 760.0,828.7 765.3,827.0 770.6,825.2 775.9,823.8 781.3,823.1 786.6,822.6 791.9,822.5 797.3,822.6 802.6,823.0 807.9,823.6 813.2,824.6 818.6,825.9 823.9,827.2 829.2,828.6 834.6,830.0 839.9,831.1 845.2,832.0 850.5,832.5 855.9,832.8 861.2,833.2 866.5,833.6 871.9,834.2 877.2,835.6 882.5,837.6 887.8,839.9 893.2,842.5 898.5,845.2 903.8,847.9 909.1,850.3 914.5,852.5 919.8,854.6 925.1,856.7 930.5,859.0 935.8,860.8 941.1,862.4 946.4,863.6 951.8,864.1 957.1,864.3 962.4,864.3 967.8,864.2 973.1,864.1 978.4,863.5 983.7,862.5 989.1,861.6 994.4,860.8 999.7,859.9 1005.1,859.2 1010.4,858.4 1015.7,858.2 1021.0,858.5 1026.4,859.4 1031.7,860.6 1037.0,861.7 1042.3,862.5 1047.7,863.1 1053.0,863.8 1058.3,864.3 1063.7,864.5 1069.0,864.4 1074.3,864.3 1079.6,864.0 1085.0,863.5 1090.3,863.0 1095.6,861.8 1101.0,859.9 1106.3,857.4 1111.6,854.9 1116.9,852.2 1122.3,849.6 1127.6,847.4 1132.9,845.6 1138.2,844.4 1143.6,843.4 1148.9,842.6 1154.2,842.2 1159.6,842.2 1164.9,842.0 1170.2,842.3 1175.5,843.1 1180.9,844.2 1186.2,845.6 1191.5,847.3 1196.9,849.4 1202.2,851.7 1207.5,854.0 1212.8,856.1 1218.2,858.1 1223.5,859.9 1228.8,861.5 1234.2,862.9 1239.5,863.9 1244.8,864.3 1250.1,864.2 1255.5,863.3 1260.8,861.8 1266.1,860.2 1271.5,858.5 1276.8,856.4 1282.1,854.3 1287.4,852.5 1292.8,851.0 1298.1,850.3 1303.4,850.3 1308.7,850.9 1314.1,851.8 1319.4,852.9 1324.7,853.9 1330.1,854.9 1335.4,856.1 1340.7,857.0 1346.0,857.6 1351.4,858.0 1356.7,858.1 1362.0,858.0 1367.4,857.7 1372.7,857.5 1378.0,857.6 1383.3,858.0 1388.7,858.6 1394.0,859.4 1399.3,861.0 1404.7,862.9 1410.0,865.0 1415.3,867.2 1420.6,868.9 1426.0,870.1 1431.3,870.7 1436.6,870.9 1441.9,870.9 1447.3,870.0 1452.6,868.9 1457.9,867.3 1463.3,865.5 1468.6,863.7 1473.9,861.6 1479.2,859.7 1484.6,858.0 1489.9,856.5 1495.2,855.4 1500.6,854.5 1505.9,853.5 1511.2,852.8 1516.5,852.4 1521.9,852.1 1527.2,851.7 1532.5,851.2 1537.9,851.1" fill="none" stroke="#2d8ee6" stroke-width="2.2" stroke-linejoin="round" />
<polyline points="40.7,888.8 46.0,886.8 51.3,882.1 56.7,880.0 62.0,881.0 67.3,882.5 72.7,886.3 78.0,889.4 83.3,890.9 88.6,891.7 94.0,887.7 99.3,885.4 104.6,884.5 109.9,875.9 115.3,870.4 120.6,865.6 125.9,866.2 131.3,869.0 136.6,869.6 141.9,870.6 147.2,870.2 152.6,868.5 157.9,866.8 163.2,864.6 168.6,862.4 173.9,860.5 179.2,860.0 184.5,858.0 189.9,856.8 195.2,856.3 200.5,851.9 205.8,847.9 211.2,843.1 216.5,840.0 221.8,836.5 227.2,833.9 232.5,831.0 237.8,830.4 243.1,830.2 248.5,832.0 253.8,833.4 259.1,835.0 264.5,836.0 269.8,836.1 275.1,836.4 280.4,838.0 285.8,838.2 291.1,837.7 296.4,834.2 301.8,830.5 307.1,830.3 312.4,830.4 317.7,829.1 323.1,827.3 328.4,824.9 333.7,824.4 339.1,822.6 344.4,821.0 349.7,822.6 355.0,824.1 360.4,825.9 365.7,824.6 371.0,824.1 376.3,825.8 381.7,825.6 387.0,827.0 392.3,827.1 397.7,828.1 403.0,828.5 408.3,829.9 413.6,832.6 419.0,833.5 424.3,834.9 429.6,836.7 435.0,838.7 440.3,838.9 445.6,838.2 450.9,838.7 456.3,840.5 461.6,841.4 466.9,841.8 472.2,843.6 477.6,844.3 482.9,844.6 488.2,844.6 493.6,845.9 498.9,846.5 504.2,846.8 509.5,847.9 514.9,848.5 520.2,852.6 525.5,856.2 530.9,859.2 536.2,860.8 541.5,862.9 546.8,864.5 552.2,866.3 557.5,867.7 562.8,869.6 568.2,870.3 573.5,870.7 578.8,870.4 584.1,870.6 589.5,871.8 594.8,874.1 600.1,875.9 605.5,876.2 610.8,876.2 616.1,876.4 621.4,875.4 626.8,874.5 632.1,876.4 637.4,877.5 642.7,878.0 648.1,877.2 653.4,872.5 658.7,868.1 664.1,865.1 669.4,863.1 674.7,859.0 680.0,855.3 685.4,853.0 690.7,849.9 696.0,846.3 701.4,843.3 706.7,841.5 712.0,839.5 717.3,837.9 722.7,835.2 728.0,832.7 733.3,831.5 738.6,827.5 744.0,824.9 749.3,822.9 754.6,822.3 760.0,821.2 765.3,820.1 770.6,818.1 775.9,818.3 781.3,819.9 786.6,821.0 791.9,821.9 797.3,822.9 802.6,824.9 807.9,826.0 813.2,828.6 818.6,830.9 823.9,832.6 829.2,834.0 834.6,835.5 839.9,835.6 845.2,835.7 850.5,834.3 855.9,834.3 861.2,834.9 866.5,835.2 871.9,836.4 877.2,841.1 882.5,845.7 887.8,849.0 893.2,852.9 898.5,855.9 903.8,859.0 909.1,860.0 914.5,861.3 919.8,863.0 925.1,865.2 930.5,867.8 935.8,868.3 941.1,868.9 946.4,868.1 951.8,866.1 957.1,865.1 962.4,864.5 967.8,863.9 973.1,863.7 978.4,861.0 983.7,858.6 989.1,857.8 994.4,857.6 999.7,856.6 1005.1,856.2 1010.4,855.4 1015.7,857.2 1021.0,859.9 1026.4,862.9 1031.7,865.5 1037.0,865.9 1042.3,865.8 1047.7,865.8 1053.0,866.5 1058.3,866.1 1063.7,865.4 1069.0,863.9 1074.3,864.1 1079.6,862.9 1085.0,861.6 1090.3,860.8 1095.6,857.0 1101.0,852.1 1106.3,847.6 1111.6,844.6 1116.9,841.7 1122.3,839.1 1127.6,838.6 1132.9,838.6 1138.2,839.5 1143.6,839.6 1148.9,839.4 1154.2,840.7 1159.6,841.8 1164.9,841.5 1170.2,843.3 1175.5,846.1 1180.9,849.0 1186.2,851.1 1191.5,854.2 1196.9,857.9 1202.2,860.9 1207.5,862.9 1212.8,864.6 1218.2,866.0 1223.5,867.1 1228.8,868.1 1234.2,868.2 1239.5,868.0 1244.8,866.0 1250.1,863.9 1255.5,859.4 1260.8,856.2 1266.1,853.6 1271.5,851.5 1276.8,848.3 1282.1,845.9 1287.4,845.1 1292.8,845.2 1298.1,847.4 1303.4,850.2 1308.7,853.2 1314.1,855.7 1319.4,857.0 1324.7,857.9 1330.1,859.2 1335.4,860.7 1340.7,860.6 1346.0,860.1 1351.4,859.7 1356.7,858.3 1362.0,857.6 1367.4,856.4 1372.7,856.9 1378.0,857.7 1383.3,859.6 1388.7,861.0 1394.0,862.8 1399.3,867.1 1404.7,870.4 1410.0,873.5 1415.3,876.1 1420.6,875.7 1426.0,874.6 1431.3,873.4 1436.6,871.7 1441.9,870.6 1447.3,866.8 1452.6,864.1 1457.9,861.1 1463.3,858.4 1468.6,856.4 1473.9,853.4 1479.2,852.0 1484.6,851.1 1489.9,850.8 1495.2,850.8 1500.6,850.9 1505.9,849.5 1511.2,850.1 1516.5,850.7 1521.9,851.0 1527.2,850.0 1532.5,849.4 1537.9,850.8" fill="none" stroke="#e8525a" stroke-width="2.2" stroke-linejoin="round" />
</g>
<text x="60" y="821" font-size="14.6" fill="#10d8dc" font-weight="bold" textLength="851" lengthAdjust="spacingAndGlyphs" >MACDTwoLines(tw) MACD Two Lines (Fast Length=12, Slow Length=26, MACD Length=9, Average Type=EXPONENTIAL</text>
<text x="920.5" y="821" font-size="14.6" fill="#e05a5a" font-weight="bold" textLength="40" lengthAdjust="spacingAndGlyphs" >Value</text>
<text x="972.7" y="821" font-size="14.6" fill="#3a8ee0" font-weight="bold" textLength="26" lengthAdjust="spacingAndGlyphs" >Avg</text>
<clipPath id="zl"><rect x="1000" y="805" width="78" height="25"/></clipPath>
<text x="1009.5" y="821" font-size="14.6" fill="#8a8a8a" font-weight="bold" textLength="72" lengthAdjust="spacingAndGlyphs" clip-path="url(#zl)">Zero Level</text>
<text x="1572" y="822" font-size="16.5" fill="#9a9a9a" textLength="22" lengthAdjust="spacingAndGlyphs" >1.0</text>
<text x="1572" y="894.5" font-size="16.5" fill="#9a9a9a" textLength="13" lengthAdjust="spacingAndGlyphs" >-1</text>
<rect x="1571" y="843" width="36" height="18" rx="4" fill="#4a88d0"/>
<rect x="1571" y="840" width="36" height="18.5" rx="5" fill="#f06262"/>
<text x="1572" y="856.5" font-size="16" fill="#000" textLength="37" lengthAdjust="spacingAndGlyphs" >0.044</text>
<line x1="44" y1="939.8" x2="1538" y2="939.8" stroke="#8c0a0a" stroke-width="1.6"/>
<line x1="44" y1="1005.8" x2="1538" y2="1005.8" stroke="#8c0a0a" stroke-width="1.6"/>
<g clip-path="url(#cs)">
<polyline points="40.7,1018.0 46.0,1005.0 51.3,984.0 56.7,969.0 62.0,964.0 67.3,972.0 72.7,992.0 78.0,1008.0 83.3,1019.5 88.6,1021.4 94.0,1015.0 99.3,1004.0 104.6,992.0 109.9,981.0 115.3,966.0 120.6,950.0 125.9,945.0 131.3,952.0 136.6,973.0 141.9,989.2 147.2,995.9 152.6,995.1 157.9,990.3 163.2,986.1 168.6,982.0 173.9,979.4 179.2,978.8 184.5,977.4 189.9,975.8 195.2,968.4 200.5,957.8 205.8,943.9 211.2,932.5 216.5,927.7 221.8,926.4 227.2,926.9 232.5,924.1 237.8,923.9 243.1,925.8 248.5,933.5 253.8,941.6 259.1,950.6 264.5,955.3 269.8,958.1 275.1,958.2 280.4,964.5 285.8,972.2 291.1,979.9 296.4,972.2 301.8,956.6 307.1,941.7 312.4,940.6 317.7,947.5 323.1,950.0 328.4,943.3 333.7,933.6 339.1,928.2 344.4,928.2 349.7,930.9 355.0,936.1 360.4,945.4 365.7,949.6 371.0,947.9 376.3,940.9 381.7,937.5 387.0,939.9 392.3,939.8 397.7,942.0 403.0,941.1 408.3,947.7 413.6,957.6 419.0,969.7 424.3,978.6 429.6,980.3 435.0,985.2 440.3,988.1 445.6,987.2 450.9,976.3 456.3,969.5 461.6,972.4 466.9,980.6 472.2,984.1 477.6,981.7 482.9,977.3 488.2,970.6 493.6,966.4 498.9,964.9 504.2,968.4 509.5,970.8 514.9,973.4 520.2,981.9 525.5,995.0 530.9,1011.9 536.2,1021.1 541.5,1024.9 546.8,1023.0 552.2,1022.7 557.5,1023.1 562.8,1024.5 568.2,1024.3 573.5,1023.0 578.8,1019.5 584.1,1016.8 589.5,1016.5 594.8,1019.6 600.1,1023.0 605.5,1022.1 610.8,1016.9 616.1,1010.1 621.4,1004.2 626.8,999.5 632.1,998.0 637.4,1001.8 642.7,1010.1 648.1,1013.5 653.4,1003.4 658.7,979.6 664.1,952.7 669.4,938.2 674.7,935.5 680.0,937.3 685.4,934.8 690.7,931.5 696.0,929.4 701.4,928.3 706.7,927.0 712.0,926.6 717.3,926.6 722.7,925.0 728.0,922.8 733.3,921.8 738.6,922.3 744.0,923.2 749.3,922.9 754.6,924.0 760.0,924.3 765.3,926.2 770.6,925.9 775.9,928.6 781.3,932.7 786.6,940.7 791.9,946.9 797.3,950.4 802.6,952.5 807.9,955.1 813.2,964.2 818.6,976.6 823.9,992.5 829.2,1000.9 834.6,1003.3 839.9,998.1 845.2,990.6 850.5,975.5 855.9,961.0 861.2,948.9 866.5,948.1 871.9,951.9 877.2,964.1 882.5,981.0 887.8,1000.5 893.2,1013.0 898.5,1018.7 903.8,1020.7 909.1,1020.0 914.5,1017.6 919.8,1013.4 925.1,1013.7 930.5,1016.4 935.8,1019.2 941.1,1018.6 946.4,1013.6 951.8,1002.2 957.1,986.4 962.4,969.7 967.8,961.3 973.1,959.3 978.4,957.1 983.7,950.9 989.1,942.2 994.4,942.0 999.7,946.6 1005.1,953.6 1010.4,954.5 1015.7,961.3 1021.0,973.9 1026.4,995.5 1031.7,1009.3 1037.0,1014.4 1042.3,1009.4 1047.7,1001.8 1053.0,997.8 1058.3,997.0 1063.7,998.1 1069.0,993.9 1074.3,989.8 1079.6,985.1 1085.0,984.6 1090.3,977.5 1095.6,965.1 1101.0,946.7 1106.3,931.4 1111.6,923.7 1116.9,921.5 1122.3,922.4 1127.6,923.9 1132.9,927.9 1138.2,935.5 1143.6,942.0 1148.9,945.6 1154.2,945.9 1159.6,948.3 1164.9,951.7 1170.2,960.9 1175.5,973.9 1180.9,994.3 1186.2,1007.1 1191.5,1014.2 1196.9,1014.7 1202.2,1018.8 1207.5,1022.2 1212.8,1023.9 1218.2,1022.2 1223.5,1020.4 1228.8,1018.2 1234.2,1016.3 1239.5,1014.3 1244.8,1008.5 1250.1,996.7 1255.5,975.6 1260.8,953.3 1266.1,935.2 1271.5,927.9 1276.8,925.6 1282.1,926.0 1287.4,927.4 1292.8,932.9 1298.1,943.8 1303.4,958.7 1308.7,977.7 1314.1,995.6 1319.4,1009.8 1324.7,1016.1 1330.1,1017.5 1335.4,1016.1 1340.7,1013.3 1346.0,1007.5 1351.4,1000.2 1356.7,992.7 1362.0,987.5 1367.4,980.5 1372.7,974.9 1378.0,970.1 1383.3,975.2 1388.7,986.3 1394.0,1002.1 1399.3,1012.2 1404.7,1016.7 1410.0,1016.6 1415.3,1016.2 1420.6,1014.9 1426.0,1010.8 1431.3,1002.8 1436.6,994.6 1441.9,989.1 1447.3,982.9 1452.6,975.3 1457.9,963.6 1463.3,955.3 1468.6,947.7 1473.9,943.1 1479.2,939.2 1484.6,938.5 1489.9,941.5 1495.2,947.4 1500.6,955.1 1505.9,959.9 1511.2,962.8 1516.5,964.1 1521.9,972.6 1527.2,979.4 1532.5,984.1 1537.9,984.2" fill="none" stroke="#0c4fc8" stroke-width="2.4" stroke-linejoin="round" />
<polyline points="40.7,1005.0 46.0,986.4 51.3,961.0 56.7,958.5 62.0,969.4 67.3,988.0 72.7,1013.5 78.0,1022.3 83.3,1024.7 88.6,1020.0 94.0,1000.0 99.3,989.0 104.6,983.5 109.9,967.0 115.3,952.5 120.6,933.0 125.9,951.3 131.3,974.1 136.6,993.6 141.9,999.7 147.2,994.3 152.6,991.4 157.9,985.1 163.2,981.8 168.6,979.2 173.9,977.2 179.2,980.0 184.5,975.1 189.9,972.2 195.2,957.9 200.5,943.3 205.8,930.5 211.2,923.8 216.5,928.9 221.8,926.5 227.2,925.4 232.5,920.6 237.8,925.9 243.1,930.9 248.5,943.7 253.8,950.1 259.1,958.0 264.5,957.7 269.8,958.6 275.1,958.4 280.4,976.4 285.8,982.0 291.1,981.5 296.4,953.1 301.8,935.2 307.1,936.7 312.4,949.7 317.7,956.2 323.1,944.2 328.4,929.4 333.7,927.1 339.1,927.9 344.4,929.5 349.7,935.3 355.0,943.6 360.4,957.4 365.7,947.7 371.0,938.6 376.3,936.4 381.7,937.5 387.0,945.8 392.3,936.2 397.7,943.9 403.0,943.1 408.3,956.1 413.6,973.6 419.0,979.3 424.3,982.9 429.6,978.6 435.0,994.1 440.3,991.6 445.6,976.0 450.9,961.3 456.3,971.3 461.6,984.8 466.9,985.9 472.2,981.6 477.6,977.4 482.9,973.0 488.2,961.2 493.6,964.9 498.9,968.5 504.2,971.7 509.5,972.4 514.9,976.3 520.2,996.9 525.5,1011.7 530.9,1027.0 536.2,1024.7 541.5,1023.0 546.8,1021.3 552.2,1023.7 557.5,1024.1 562.8,1025.6 568.2,1023.1 573.5,1020.4 578.8,1015.0 584.1,1015.2 589.5,1019.2 594.8,1024.4 600.1,1025.2 605.5,1016.8 610.8,1008.8 616.1,1004.8 621.4,999.2 626.8,994.5 632.1,1000.2 637.4,1010.6 642.7,1019.6 648.1,1010.2 653.4,980.4 658.7,948.3 664.1,929.4 669.4,937.0 674.7,940.2 680.0,934.9 685.4,929.4 690.7,930.1 696.0,928.6 701.4,926.1 706.7,926.4 712.0,927.3 717.3,926.1 722.7,921.4 728.0,921.0 733.3,922.9 738.6,922.9 744.0,923.7 749.3,922.0 754.6,926.2 760.0,924.7 765.3,927.7 770.6,925.3 775.9,932.7 781.3,940.1 786.6,949.3 791.9,951.3 797.3,950.6 802.6,955.6 807.9,959.1 813.2,977.8 818.6,993.0 823.9,1006.6 829.2,1003.2 834.6,1000.2 839.9,990.9 845.2,980.7 850.5,954.8 855.9,947.6 861.2,944.2 866.5,952.6 871.9,958.9 877.2,980.7 882.5,1003.3 887.8,1017.4 893.2,1018.4 898.5,1020.1 903.8,1023.5 909.1,1016.4 914.5,1013.0 919.8,1010.7 925.1,1017.4 930.5,1021.1 935.8,1019.2 941.1,1015.4 946.4,1006.3 951.8,985.0 957.1,967.9 962.4,956.2 967.8,959.8 973.1,961.9 978.4,949.7 983.7,941.0 989.1,935.8 994.4,949.2 999.7,955.0 1005.1,956.7 1010.4,951.8 1015.7,975.3 1021.0,994.6 1026.4,1016.6 1031.7,1016.6 1037.0,1010.0 1042.3,1001.6 1047.7,993.9 1053.0,997.8 1058.3,999.1 1063.7,997.3 1069.0,985.3 1074.3,986.9 1079.6,983.0 1085.0,983.8 1090.3,965.7 1095.6,945.8 1101.0,928.7 1106.3,919.8 1111.6,922.5 1116.9,922.0 1122.3,922.7 1127.6,927.0 1132.9,934.1 1138.2,945.3 1143.6,946.7 1148.9,944.8 1154.2,946.4 1159.6,953.6 1164.9,955.1 1170.2,974.0 1175.5,992.6 1180.9,1016.1 1186.2,1012.6 1191.5,1013.7 1196.9,1017.8 1202.2,1024.9 1207.5,1023.8 1212.8,1023.0 1218.2,1019.9 1223.5,1018.2 1228.8,1016.5 1234.2,1014.2 1239.5,1012.1 1244.8,999.1 1250.1,978.8 1255.5,949.0 1260.8,931.9 1266.1,924.7 1271.5,927.2 1276.8,925.0 1282.1,925.9 1287.4,931.3 1292.8,941.5 1298.1,958.5 1303.4,976.1 1308.7,998.4 1314.1,1012.3 1319.4,1018.9 1324.7,1017.2 1330.1,1016.3 1335.4,1014.9 1340.7,1008.8 1346.0,999.0 1351.4,992.9 1356.7,986.2 1362.0,983.3 1367.4,972.0 1372.7,969.5 1378.0,968.8 1383.3,987.3 1388.7,1002.9 1394.0,1016.0 1399.3,1017.8 1404.7,1016.3 1410.0,1015.8 1415.3,1016.6 1420.6,1012.3 1426.0,1003.4 1431.3,992.6 1436.6,987.9 1441.9,986.8 1447.3,974.0 1452.6,965.3 1457.9,951.6 1463.3,949.0 1468.6,942.6 1473.9,937.7 1479.2,937.4 1484.6,940.3 1489.9,946.7 1495.2,955.1 1500.6,963.4 1505.9,961.3 1511.2,963.7 1516.5,967.2 1521.9,987.0 1527.2,984.1 1532.5,981.2 1537.9,987.2" fill="none" stroke="#7090a8" stroke-width="2.2" stroke-linejoin="round" />
</g>
<text x="60" y="925" font-size="14.6" fill="#10d8dc" font-weight="bold" textLength="658" lengthAdjust="spacingAndGlyphs" >Slow Stochastic (kPeriod=14, dPeriod=3, overbought=80, oversold=20, averageType=SIMPLE)</text>
<text x="730.4" y="925" font-size="14.6" fill="#6f8ea6" font-weight="bold" textLength="43" lengthAdjust="spacingAndGlyphs" >SlowK</text>
<clipPath id="sdl"><rect x="780" y="909" width="43" height="25"/></clipPath>
<text x="783" y="925" font-size="14.6" fill="#1350c0" font-weight="bold" textLength="44" lengthAdjust="spacingAndGlyphs" clip-path="url(#sdl)">SlowD</text>
<text x="1572" y="978.5" font-size="16.5" fill="#9a9a9a" textLength="16" lengthAdjust="spacingAndGlyphs" >50</text>
<text x="1572" y="1034.5" font-size="16.5" fill="#9a9a9a" textLength="22" lengthAdjust="spacingAndGlyphs" >0.0</text>
<rect x="1571" y="929.7" width="44" height="19.3" rx="5" fill="#b00000"/>
<text x="1572" y="946" font-size="16.5" fill="#000" textLength="45" lengthAdjust="spacingAndGlyphs" >80.000</text>
<rect x="1571" y="973" width="44" height="21.8" rx="5" fill="#0c4fc8"/><rect x="1571" y="975.5" width="44" height="19.3" rx="5" fill="#6e92ae"/>
<text x="1572" y="991.5" font-size="16.5" fill="#000" textLength="45" lengthAdjust="spacingAndGlyphs" >37.849</text>
<rect x="1571" y="996" width="44" height="19.4" rx="5" fill="#b00000"/>
<text x="1572" y="1012.5" font-size="16.5" fill="#000" textLength="45" lengthAdjust="spacingAndGlyphs" >20.000</text>
<rect x="80" y="1041" width="1.5" height="5" fill="#6a6a6a"/>
<text x="80" y="1060.4" font-size="15.5" fill="#8c8c8c" font-weight="bold" textLength="40.3" lengthAdjust="spacingAndGlyphs" >SEP 2</text>
<rect x="278" y="1041" width="1.5" height="5" fill="#6a6a6a"/>
<text x="278" y="1060.4" font-size="15.5" fill="#8a8a8a" textLength="49" lengthAdjust="spacingAndGlyphs" >NOV 28</text>
<rect x="400" y="1041" width="1.5" height="5" fill="#6a6a6a"/>
<text x="400" y="1060.4" font-size="15.5" fill="#8c8c8c" font-weight="bold" textLength="34.5" lengthAdjust="spacingAndGlyphs" >2023</text>
<rect x="614" y="1041" width="1.5" height="5" fill="#6a6a6a"/>
<text x="614" y="1060.4" font-size="15.5" fill="#8c8c8c" font-weight="bold" textLength="44.5" lengthAdjust="spacingAndGlyphs" >MAR 2</text>
<rect x="805" y="1041" width="1.5" height="5" fill="#6a6a6a"/>
<text x="805" y="1060.4" font-size="15.5" fill="#8a8a8a" textLength="50" lengthAdjust="spacingAndGlyphs" >APR 24</text>
<rect x="954" y="1041" width="1.5" height="5" fill="#6a6a6a"/>
<text x="954" y="1060.4" font-size="15.5" fill="#8c8c8c" font-weight="bold" textLength="40" lengthAdjust="spacingAndGlyphs" >JUN 2</text>
<rect x="1162" y="1041" width="1.5" height="5" fill="#6a6a6a"/>
<text x="1162" y="1060.4" font-size="15.5" fill="#8a8a8a" textLength="46" lengthAdjust="spacingAndGlyphs" >JUL 31</text>
<rect x="1295" y="1041" width="1.5" height="5" fill="#6a6a6a"/>
<text x="1295" y="1060.4" font-size="15.5" fill="#8c8c8c" font-weight="bold" textLength="40" lengthAdjust="spacingAndGlyphs" >SEP 5</text>
<rect x="1519" y="1041" width="1.5" height="5" fill="#6a6a6a"/>
<text x="1519" y="1060.4" font-size="15.5" fill="#8c8c8c" font-weight="bold" textLength="43" lengthAdjust="spacingAndGlyphs" >NOV 2</text>
<rect x="43" y="1068.5" width="1576" height="19" fill="#383838"/>
<rect x="44" y="1069.5" width="19" height="17.5" fill="#363636" stroke="#5e5e5e" stroke-width="1.2"/>
<path d="M51,1077.5 L55,1074.5 L55,1080.5 Z" fill="#777"/>
<rect x="1076.5" y="1069.5" width="522" height="17.5" fill="#474747" stroke="#606060" stroke-width="1.2"/>
<rect x="1599.5" y="1069.5" width="19" height="17.5" fill="#363636" stroke="#5e5e5e" stroke-width="1.2"/>
<path d="M1611,1077.5 L1607,1074.5 L1607,1080.5 Z" fill="#777"/>
</svg></body></html>
